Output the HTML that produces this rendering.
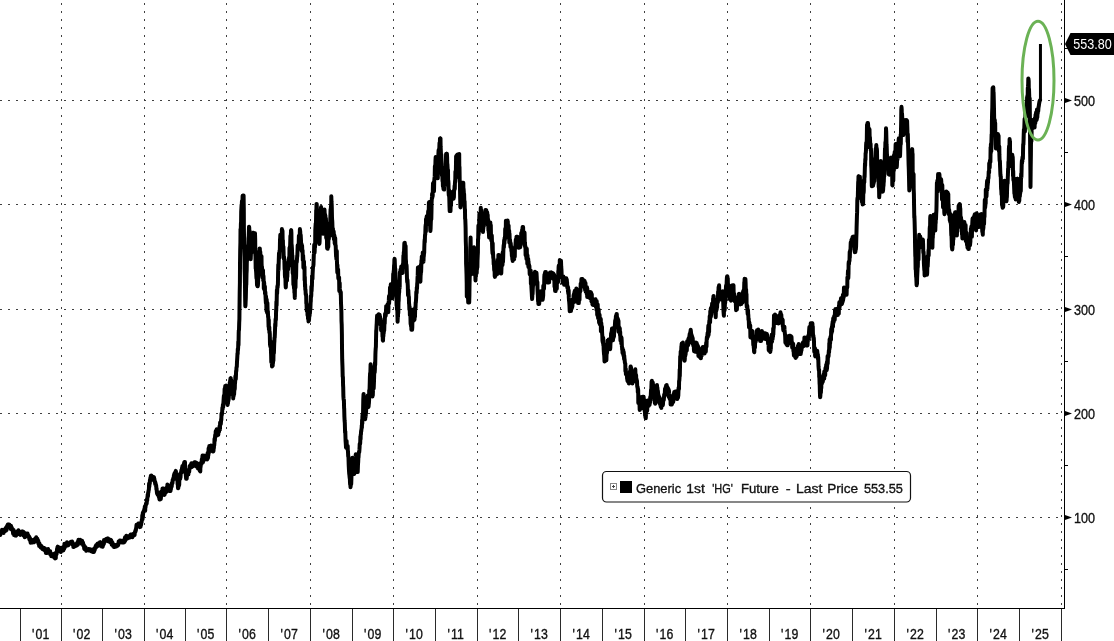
<!DOCTYPE html>
<html><head><meta charset="utf-8"><title>HG1 Copper Futures</title>
<style>
html,body{margin:0;padding:0;background:#fff;}
body{width:1114px;height:641px;overflow:hidden;}
svg{display:block;will-change:transform;}
text{font-family:"Liberation Sans",sans-serif;font-size:14px;fill:#111;stroke:#111;stroke-width:.35px;}
.g{stroke:#404040;stroke-width:1;shape-rendering:crispEdges;fill:none;}
.ax{stroke:#000;shape-rendering:crispEdges;fill:none;}
</style></head><body>
<svg width="1114" height="641" viewBox="0 0 1114 641">
<rect width="1114" height="641" fill="#fff"/>
<g class="g" stroke-dasharray="2 6">
<line x1="0" y1="100.5" x2="1064" y2="100.5"/>
<line x1="0" y1="204.5" x2="1064" y2="204.5"/>
<line x1="0" y1="309.5" x2="1064" y2="309.5"/>
<line x1="0" y1="413.5" x2="1064" y2="413.5"/>
<line x1="0" y1="517.5" x2="1064" y2="517.5"/>
</g>
<g class="g" stroke-dasharray="2 6" stroke-dashoffset="-3">
<line x1="61.5" y1="0" x2="61.5" y2="608"/>
<line x1="144.5" y1="0" x2="144.5" y2="608"/>
<line x1="226.5" y1="0" x2="226.5" y2="608"/>
<line x1="310.5" y1="0" x2="310.5" y2="608"/>
<line x1="393.5" y1="0" x2="393.5" y2="608"/>
<line x1="477.5" y1="0" x2="477.5" y2="608"/>
<line x1="560.5" y1="0" x2="560.5" y2="608"/>
<line x1="644.5" y1="0" x2="644.5" y2="608"/>
<line x1="727.5" y1="0" x2="727.5" y2="608"/>
<line x1="810.5" y1="0" x2="810.5" y2="608"/>
<line x1="894.5" y1="0" x2="894.5" y2="608"/>
<line x1="977.5" y1="0" x2="977.5" y2="608"/>
<line x1="1061.5" y1="0" x2="1061.5" y2="608"/>
</g>
<g class="ax">
<rect x="0" y="608" width="1065.2" height="1.25" fill="#000" stroke="none"/>
<rect x="1063.9" y="0" width="1.3" height="609.2" fill="#000" stroke="none"/>
</g>
<g stroke="#2a2a2a" stroke-width="1" shape-rendering="crispEdges">
<line x1="20.5" y1="609" x2="20.5" y2="641"/>
<line x1="61.5" y1="609" x2="61.5" y2="641"/>
<line x1="102.5" y1="609" x2="102.5" y2="641"/>
<line x1="144.5" y1="609" x2="144.5" y2="641"/>
<line x1="185.5" y1="609" x2="185.5" y2="641"/>
<line x1="226.5" y1="609" x2="226.5" y2="641"/>
<line x1="268.5" y1="609" x2="268.5" y2="641"/>
<line x1="310.5" y1="609" x2="310.5" y2="641"/>
<line x1="352.5" y1="609" x2="352.5" y2="641"/>
<line x1="393.5" y1="609" x2="393.5" y2="641"/>
<line x1="435.5" y1="609" x2="435.5" y2="641"/>
<line x1="477.5" y1="609" x2="477.5" y2="641"/>
<line x1="518.5" y1="609" x2="518.5" y2="641"/>
<line x1="560.5" y1="609" x2="560.5" y2="641"/>
<line x1="602.5" y1="609" x2="602.5" y2="641"/>
<line x1="644.5" y1="609" x2="644.5" y2="641"/>
<line x1="685.5" y1="609" x2="685.5" y2="641"/>
<line x1="727.5" y1="609" x2="727.5" y2="641"/>
<line x1="769.5" y1="609" x2="769.5" y2="641"/>
<line x1="810.5" y1="609" x2="810.5" y2="641"/>
<line x1="852.5" y1="609" x2="852.5" y2="641"/>
<line x1="894.5" y1="609" x2="894.5" y2="641"/>
<line x1="936.5" y1="609" x2="936.5" y2="641"/>
<line x1="977.5" y1="609" x2="977.5" y2="641"/>
<line x1="1019.5" y1="609" x2="1019.5" y2="641"/>
<line x1="1061.5" y1="609" x2="1061.5" y2="641"/>
</g>
<text transform="translate(31.9,639) scale(0.88,1)">&#39;<tspan dx="1.5">01</tspan></text>
<text transform="translate(72.9,639) scale(0.88,1)">&#39;<tspan dx="1.5">02</tspan></text>
<text transform="translate(114.4,639) scale(0.88,1)">&#39;<tspan dx="1.5">03</tspan></text>
<text transform="translate(155.9,639) scale(0.88,1)">&#39;<tspan dx="1.5">04</tspan></text>
<text transform="translate(196.9,639) scale(0.88,1)">&#39;<tspan dx="1.5">05</tspan></text>
<text transform="translate(238.4,639) scale(0.88,1)">&#39;<tspan dx="1.5">06</tspan></text>
<text transform="translate(280.4,639) scale(0.88,1)">&#39;<tspan dx="1.5">07</tspan></text>
<text transform="translate(322.4,639) scale(0.88,1)">&#39;<tspan dx="1.5">08</tspan></text>
<text transform="translate(363.9,639) scale(0.88,1)">&#39;<tspan dx="1.5">09</tspan></text>
<text transform="translate(405.4,639) scale(0.88,1)">&#39;<tspan dx="1.5">10</tspan></text>
<text transform="translate(447.4,639) scale(0.88,1)">&#39;<tspan dx="1.5">11</tspan></text>
<text transform="translate(488.9,639) scale(0.88,1)">&#39;<tspan dx="1.5">12</tspan></text>
<text transform="translate(530.4,639) scale(0.88,1)">&#39;<tspan dx="1.5">13</tspan></text>
<text transform="translate(572.4,639) scale(0.88,1)">&#39;<tspan dx="1.5">14</tspan></text>
<text transform="translate(614.4,639) scale(0.88,1)">&#39;<tspan dx="1.5">15</tspan></text>
<text transform="translate(655.9,639) scale(0.88,1)">&#39;<tspan dx="1.5">16</tspan></text>
<text transform="translate(697.4,639) scale(0.88,1)">&#39;<tspan dx="1.5">17</tspan></text>
<text transform="translate(739.4,639) scale(0.88,1)">&#39;<tspan dx="1.5">18</tspan></text>
<text transform="translate(780.9,639) scale(0.88,1)">&#39;<tspan dx="1.5">19</tspan></text>
<text transform="translate(822.4,639) scale(0.88,1)">&#39;<tspan dx="1.5">20</tspan></text>
<text transform="translate(864.4,639) scale(0.88,1)">&#39;<tspan dx="1.5">21</tspan></text>
<text transform="translate(906.4,639) scale(0.88,1)">&#39;<tspan dx="1.5">22</tspan></text>
<text transform="translate(947.9,639) scale(0.88,1)">&#39;<tspan dx="1.5">23</tspan></text>
<text transform="translate(989.4,639) scale(0.88,1)">&#39;<tspan dx="1.5">24</tspan></text>
<text transform="translate(1031.4,639) scale(0.88,1)">&#39;<tspan dx="1.5">25</tspan></text>
<path d="M1065 97.9 L1072 100.5 L1065 103.1 Z" fill="#000"/>
<text transform="translate(1074.1,106) scale(0.9,1)">500</text>
<path d="M1065 201.9 L1072 204.5 L1065 207.1 Z" fill="#000"/>
<text transform="translate(1074.1,210) scale(0.9,1)">400</text>
<path d="M1065 306.9 L1072 309.5 L1065 312.1 Z" fill="#000"/>
<text transform="translate(1074.1,315) scale(0.9,1)">300</text>
<path d="M1065 410.9 L1072 413.5 L1065 416.1 Z" fill="#000"/>
<text transform="translate(1074.1,419) scale(0.9,1)">200</text>
<path d="M1065 514.9 L1072 517.5 L1065 520.1 Z" fill="#000"/>
<text transform="translate(1074.1,523) scale(0.9,1)">100</text>
<g class="ax" stroke-width="1">
<line x1="1065" y1="48.5" x2="1068" y2="48.5"/>
<line x1="1065" y1="152.5" x2="1068" y2="152.5"/>
<line x1="1065" y1="256.5" x2="1068" y2="256.5"/>
<line x1="1065" y1="361.5" x2="1068" y2="361.5"/>
<line x1="1065" y1="465.5" x2="1068" y2="465.5"/>
<line x1="1065" y1="569.5" x2="1068" y2="569.5"/>
</g>
<path d="M1040.45 101 L1040.45 44" fill="none" stroke="#000" stroke-width="3"/>
<path d="M0.0 533.0 0.2 532.6 0.3 535.0 0.5 533.6 0.7 532.6 0.9 532.6 1.0 532.4 1.2 531.3 1.4 531.6 1.5 532.0 1.7 531.0 1.9 531.2 2.0 529.8 2.2 531.4 2.4 530.5 2.5 531.4 2.7 532.4 2.9 531.0 3.1 531.3 3.2 530.7 3.4 530.3 3.6 532.9 3.7 529.8 3.9 531.9 4.1 531.8 4.2 531.5 4.4 530.0 4.6 531.2 4.8 530.9 4.9 530.5 5.1 531.2 5.3 531.0 5.4 529.6 5.6 528.7 5.8 528.0 5.9 530.7 6.1 529.1 6.3 529.5 6.5 527.0 6.6 530.0 6.8 527.8 7.0 528.4 7.1 525.9 7.3 526.3 7.5 525.0 7.6 526.8 7.8 524.6 8.0 526.9 8.2 524.6 8.3 524.6 8.5 526.8 8.7 525.1 8.8 526.7 9.0 524.6 9.2 524.6 9.3 526.3 9.5 527.1 9.7 527.2 9.9 526.2 10.0 525.9 10.2 526.1 10.4 526.1 10.5 526.5 10.7 527.7 10.9 529.1 11.0 525.7 11.2 527.0 11.4 527.5 11.6 529.0 11.7 527.5 11.9 529.8 12.1 529.4 12.2 529.1 12.4 528.9 12.6 530.3 12.7 529.3 12.9 531.2 13.1 533.6 13.3 533.0 13.4 530.5 13.6 529.9 13.8 532.9 13.9 533.9 14.1 535.1 14.3 533.8 14.4 531.9 14.6 534.2 14.8 535.0 15.0 535.3 15.1 533.7 15.3 535.6 15.5 535.6 15.6 535.3 15.8 533.7 16.0 533.5 16.1 535.7 16.3 532.1 16.5 535.0 16.7 534.0 16.8 533.6 17.0 534.1 17.2 534.3 17.3 531.6 17.5 531.6 17.7 532.8 17.9 530.9 18.0 531.0 18.2 531.4 18.4 530.2 18.5 530.7 18.7 532.4 18.9 531.5 19.0 533.2 19.2 532.1 19.4 533.2 19.6 532.9 19.7 533.8 19.9 533.5 20.1 534.7 20.2 534.8 20.4 532.5 20.6 533.0 20.7 534.1 20.9 532.5 21.1 534.4 21.3 532.9 21.4 531.7 21.6 532.6 21.8 531.5 21.9 532.7 22.1 533.3 22.3 532.2 22.4 532.5 22.6 531.5 22.8 534.5 23.0 533.0 23.1 533.9 23.3 534.7 23.5 535.4 23.6 531.9 23.8 532.5 24.0 534.7 24.1 535.1 24.3 535.7 24.5 535.4 24.7 537.3 24.8 536.2 25.0 535.9 25.2 536.2 25.3 536.2 25.5 535.2 25.7 535.9 25.8 533.5 26.0 535.7 26.2 536.2 26.4 536.1 26.5 535.0 26.7 534.5 26.9 536.0 27.0 535.5 27.2 535.2 27.4 536.0 27.5 533.4 27.7 534.0 27.9 534.5 28.1 535.5 28.2 536.7 28.4 536.7 28.6 536.8 28.7 536.1 28.9 537.0 29.1 536.4 29.2 537.9 29.4 539.4 29.6 537.9 29.8 537.6 29.9 538.7 30.1 540.0 30.3 541.0 30.4 538.9 30.6 542.7 30.8 541.8 30.9 539.9 31.1 539.7 31.3 540.0 31.5 540.9 31.6 542.5 31.8 540.9 32.0 542.2 32.1 542.3 32.3 541.4 32.5 542.5 32.6 542.5 32.8 542.5 33.0 541.4 33.2 540.8 33.3 541.2 33.5 540.1 33.7 541.6 33.8 541.1 34.0 542.3 34.2 541.7 34.3 540.7 34.5 539.2 34.7 539.1 34.9 539.9 35.0 538.8 35.2 538.7 35.4 539.7 35.5 540.0 35.7 540.9 35.9 540.8 36.0 538.5 36.2 537.2 36.4 538.5 36.6 540.1 36.7 540.4 36.9 540.5 37.1 540.3 37.2 538.5 37.4 539.1 37.6 541.4 37.7 541.6 37.9 541.9 38.1 542.5 38.3 540.8 38.4 543.7 38.6 543.7 38.8 543.9 38.9 543.6 39.1 545.9 39.3 545.8 39.4 543.2 39.6 545.3 39.8 545.2 40.0 546.1 40.1 545.2 40.3 545.4 40.5 547.1 40.6 547.4 40.8 546.2 41.0 545.6 41.1 546.4 41.3 546.6 41.5 546.6 41.7 547.4 41.8 547.1 42.0 547.2 42.2 548.7 42.3 548.9 42.5 547.7 42.7 548.7 42.8 547.3 43.0 547.5 43.2 548.6 43.4 548.6 43.5 549.3 43.7 548.6 43.9 549.3 44.0 550.0 44.2 549.9 44.4 548.2 44.5 549.3 44.7 549.0 44.9 548.4 45.1 549.4 45.2 550.0 45.4 551.1 45.6 550.1 45.7 551.1 45.9 553.1 46.1 551.9 46.2 550.6 46.4 551.9 46.6 551.6 46.8 551.9 46.9 550.0 47.1 553.0 47.3 551.0 47.4 550.0 47.6 549.9 47.8 550.1 47.9 549.9 48.1 549.0 48.3 550.2 48.5 550.2 48.6 551.7 48.8 551.5 49.0 552.6 49.1 551.9 49.3 551.8 49.5 552.8 49.6 551.7 49.8 551.1 50.0 552.8 50.2 551.2 50.3 554.5 50.5 553.0 50.7 553.6 50.8 555.0 51.0 555.1 51.2 554.7 51.3 556.2 51.5 555.5 51.7 553.9 51.9 555.8 52.0 554.7 52.2 554.8 52.4 555.5 52.5 555.4 52.7 555.9 52.9 555.8 53.0 554.3 53.2 555.5 53.4 555.6 53.6 555.9 53.7 557.0 53.9 556.7 54.1 556.7 54.2 557.4 54.4 557.6 54.6 557.6 54.7 553.5 54.9 555.2 55.1 558.4 55.3 557.4 55.4 555.5 55.6 556.4 55.8 558.3 55.9 554.3 56.1 552.4 56.3 553.4 56.4 554.4 56.6 553.9 56.8 552.3 57.0 550.0 57.1 548.6 57.3 548.7 57.5 547.0 57.6 547.8 57.8 546.6 58.0 547.8 58.1 549.3 58.3 548.2 58.5 548.4 58.7 548.2 58.8 549.2 59.0 548.5 59.2 548.9 59.3 547.4 59.5 547.6 59.7 549.7 59.8 550.1 60.0 551.2 60.2 550.5 60.4 549.3 60.5 548.4 60.7 551.9 60.9 550.3 61.0 551.9 61.2 551.7 61.4 550.7 61.5 548.0 61.7 551.1 61.9 550.6 62.1 550.3 62.2 547.5 62.4 548.0 62.6 548.0 62.7 548.7 62.9 547.8 63.1 548.7 63.2 547.2 63.4 550.4 63.6 546.7 63.8 546.9 63.9 547.3 64.1 546.8 64.3 548.8 64.4 543.8 64.6 545.0 64.8 547.4 64.9 546.6 65.1 544.5 65.3 544.8 65.5 544.9 65.6 545.6 65.8 546.1 66.0 545.3 66.1 545.2 66.3 545.2 66.5 545.6 66.6 544.4 66.8 544.3 67.0 542.2 67.2 543.6 67.3 545.3 67.5 545.4 67.7 545.0 67.8 544.4 68.0 543.1 68.2 544.3 68.3 545.2 68.5 544.0 68.7 544.5 68.9 543.7 69.0 544.3 69.2 544.1 69.4 543.7 69.5 543.7 69.7 543.9 69.9 543.7 70.0 543.0 70.2 543.1 70.4 542.2 70.6 542.4 70.7 543.5 70.9 541.7 71.1 542.2 71.2 541.7 71.4 542.8 71.6 542.2 71.7 541.9 71.9 542.9 72.1 541.6 72.3 541.9 72.4 542.6 72.6 544.6 72.8 543.8 72.9 543.7 73.1 543.7 73.3 546.9 73.4 543.9 73.6 545.6 73.8 547.1 74.0 546.1 74.1 545.6 74.3 545.5 74.5 546.4 74.6 546.4 74.8 546.1 75.0 545.5 75.1 545.7 75.3 545.6 75.5 545.8 75.7 543.9 75.8 545.0 76.0 545.9 76.2 544.3 76.3 545.7 76.5 544.6 76.7 545.4 76.8 544.1 77.0 543.6 77.2 542.8 77.4 544.5 77.5 542.3 77.7 544.3 77.9 544.7 78.0 543.5 78.2 540.7 78.4 541.4 78.5 539.7 78.7 540.4 78.9 540.0 79.1 541.1 79.2 541.0 79.4 540.8 79.6 540.2 79.7 541.8 79.9 542.1 80.1 539.7 80.2 540.8 80.4 540.4 80.6 541.3 80.8 541.8 80.9 541.7 81.1 541.8 81.3 541.4 81.4 542.5 81.6 542.6 81.8 543.8 81.9 543.4 82.1 540.8 82.3 542.9 82.5 543.3 82.6 541.9 82.8 542.8 83.0 542.7 83.1 544.4 83.3 545.5 83.5 545.9 83.6 544.6 83.8 544.8 84.0 546.3 84.2 548.6 84.3 548.8 84.5 547.5 84.7 547.4 84.8 546.7 85.0 548.0 85.2 548.7 85.3 548.2 85.5 547.2 85.7 548.2 85.9 549.3 86.0 549.9 86.2 550.7 86.4 550.6 86.5 550.2 86.7 550.1 86.9 549.4 87.0 550.4 87.2 549.5 87.4 549.4 87.6 549.4 87.7 549.4 87.9 550.0 88.1 549.3 88.2 550.3 88.4 549.4 88.6 549.1 88.7 550.4 88.9 549.0 89.1 549.2 89.3 550.1 89.4 550.4 89.6 549.5 89.8 549.7 89.9 549.2 90.1 549.6 90.3 550.1 90.4 550.0 90.6 549.6 90.8 549.6 91.0 550.2 91.1 550.1 91.3 551.3 91.5 551.0 91.6 550.6 91.8 550.9 92.0 549.8 92.1 549.7 92.3 550.0 92.5 550.3 92.7 551.9 92.8 551.9 93.0 551.6 93.2 551.9 93.3 551.2 93.5 551.2 93.7 551.6 93.8 550.3 94.0 551.9 94.2 549.8 94.4 548.4 94.5 550.6 94.7 550.1 94.9 548.3 95.0 547.8 95.2 548.5 95.4 546.7 95.5 546.6 95.7 547.9 95.9 545.7 96.1 545.2 96.2 547.2 96.4 545.1 96.6 544.8 96.7 546.2 96.9 545.5 97.1 544.9 97.2 544.3 97.4 543.9 97.6 544.9 97.8 543.4 97.9 546.1 98.1 544.5 98.3 544.6 98.4 545.7 98.6 545.1 98.8 544.0 98.9 544.1 99.1 544.0 99.3 543.3 99.5 543.7 99.6 545.4 99.8 542.3 100.0 542.3 100.1 542.3 100.3 542.3 100.5 544.2 100.6 542.3 100.8 543.0 101.0 543.7 101.2 542.6 101.3 545.3 101.5 543.8 101.7 545.4 101.8 546.6 102.0 545.7 102.2 545.3 102.3 546.6 102.5 546.5 102.7 546.6 102.9 545.4 103.0 545.1 103.2 544.9 103.4 544.6 103.5 543.4 103.7 542.4 103.9 544.0 104.0 540.1 104.2 542.9 104.4 540.2 104.6 542.0 104.7 540.5 104.9 540.5 105.1 541.3 105.2 540.3 105.4 539.5 105.6 540.6 105.7 541.1 105.9 539.5 106.1 539.1 106.3 540.1 106.4 540.2 106.6 538.7 106.8 539.7 106.9 540.3 107.1 540.2 107.3 538.5 107.4 538.5 107.6 538.9 107.8 539.6 108.0 538.5 108.1 539.7 108.3 539.4 108.5 538.8 108.6 541.4 108.8 540.9 109.0 540.7 109.1 539.7 109.3 539.8 109.5 540.4 109.7 540.6 109.8 540.1 110.0 541.0 110.2 541.8 110.3 542.2 110.5 540.2 110.7 539.8 110.8 541.4 111.0 542.9 111.2 540.2 111.4 542.3 111.5 542.1 111.7 544.5 111.9 542.4 112.0 542.0 112.2 542.9 112.4 542.7 112.5 542.6 112.7 543.7 112.9 545.7 113.1 544.6 113.2 546.1 113.4 546.0 113.6 545.4 113.7 545.3 113.9 544.6 114.1 547.0 114.2 544.8 114.4 546.0 114.6 545.2 114.8 546.7 114.9 546.8 115.1 545.3 115.3 545.1 115.4 545.4 115.6 545.4 115.8 546.5 115.9 545.9 116.1 545.3 116.3 546.5 116.5 546.2 116.6 546.3 116.8 545.9 117.0 546.1 117.1 546.1 117.3 545.1 117.5 544.6 117.6 544.9 117.8 545.4 118.0 544.1 118.2 545.2 118.3 543.4 118.5 543.9 118.7 541.5 118.8 541.4 119.0 542.5 119.2 540.9 119.3 543.0 119.5 542.3 119.7 541.0 119.9 540.5 120.0 541.8 120.2 541.6 120.4 540.9 120.5 541.1 120.7 541.6 120.9 540.6 121.0 540.9 121.2 542.2 121.4 542.3 121.6 541.1 121.7 542.4 121.9 542.5 122.1 540.7 122.2 541.5 122.4 540.9 122.6 542.0 122.7 541.0 122.9 540.8 123.1 540.7 123.3 542.5 123.4 542.5 123.6 542.5 123.8 542.5 123.9 542.5 124.1 540.5 124.3 541.0 124.4 540.4 124.6 541.8 124.8 538.7 125.0 537.2 125.1 539.2 125.3 540.6 125.5 539.0 125.6 537.8 125.8 538.8 126.0 538.8 126.1 537.1 126.3 535.8 126.5 539.0 126.7 537.1 126.8 538.2 127.0 536.8 127.2 538.6 127.3 538.4 127.5 537.6 127.7 536.6 127.8 536.5 128.0 536.5 128.2 537.1 128.4 537.9 128.5 537.0 128.7 537.9 128.9 536.2 129.0 536.6 129.2 537.1 129.4 537.5 129.5 535.9 129.7 536.2 129.9 537.5 130.1 537.5 130.2 535.5 130.4 535.4 130.6 534.5 130.7 537.2 130.9 535.1 131.1 535.4 131.2 535.8 131.4 536.4 131.6 535.4 131.8 535.3 131.9 535.3 132.1 535.6 132.3 534.2 132.4 537.2 132.6 535.1 132.8 534.6 132.9 536.1 133.1 536.0 133.3 535.6 133.5 533.8 133.6 535.6 133.8 533.9 134.0 535.4 134.1 535.1 134.3 534.5 134.5 534.0 134.6 535.0 134.8 532.4 135.0 532.2 135.2 531.1 135.3 531.9 135.5 531.5 135.7 529.5 135.8 530.8 136.0 529.1 136.2 527.7 136.3 527.4 136.5 524.8 136.7 526.9 136.9 525.7 137.0 525.9 137.2 525.6 137.4 525.1 137.5 525.4 137.7 524.7 137.9 525.7 138.0 524.0 138.2 524.1 138.4 523.6 138.6 524.8 138.7 524.2 138.9 524.5 139.1 523.5 139.2 524.7 139.4 523.7 139.6 525.0 139.7 526.3 139.9 527.1 140.1 525.0 140.3 526.3 140.4 526.9 140.6 526.4 140.8 525.2 140.9 524.4 141.1 524.8 141.3 522.7 141.4 522.6 141.6 522.2 141.8 520.0 142.0 519.2 142.1 519.7 142.3 515.2 142.5 515.9 142.6 519.3 142.8 512.7 143.0 514.2 143.1 514.1 143.3 512.0 143.5 512.2 143.6 511.8 143.8 510.7 144.0 510.7 144.2 511.1 144.3 509.1 144.5 509.3 144.7 508.4 144.8 506.6 145.0 507.6 145.2 510.8 145.3 507.8 145.5 507.3 145.7 504.7 145.9 505.3 146.0 503.7 146.2 503.1 146.4 503.8 146.5 503.9 146.7 503.3 146.9 499.9 147.0 499.1 147.2 500.6 147.4 497.3 147.6 496.2 147.7 494.4 147.9 496.7 148.1 494.2 148.2 492.2 148.4 492.3 148.6 490.2 148.7 490.3 148.9 489.1 149.1 483.6 149.3 486.8 149.4 485.1 149.6 483.2 149.8 483.6 149.9 480.4 150.1 479.4 150.3 479.3 150.4 477.5 150.6 478.4 150.8 475.8 151.0 476.7 151.1 476.4 151.3 476.1 151.5 475.6 151.6 475.9 151.8 476.1 152.0 478.4 152.1 477.1 152.3 479.0 152.5 479.1 152.7 477.8 152.8 479.4 153.0 478.9 153.2 478.9 153.3 480.0 153.5 479.6 153.7 477.0 153.8 477.4 154.0 477.3 154.2 479.1 154.4 478.8 154.5 481.0 154.7 480.4 154.9 482.7 155.0 481.7 155.2 484.1 155.4 482.4 155.5 485.0 155.7 484.2 155.9 484.2 156.1 486.5 156.2 485.5 156.4 489.3 156.6 488.3 156.7 490.1 156.9 492.3 157.1 493.8 157.2 493.6 157.4 492.0 157.6 494.5 157.8 492.6 157.9 493.7 158.1 494.9 158.3 495.4 158.4 495.6 158.6 494.3 158.8 496.8 158.9 494.5 159.1 495.2 159.3 498.2 159.5 499.5 159.6 498.4 159.8 497.9 160.0 499.5 160.1 497.9 160.3 498.5 160.5 499.3 160.6 496.5 160.8 499.0 161.0 496.8 161.2 491.5 161.3 493.8 161.5 495.3 161.7 493.2 161.8 491.3 162.0 492.5 162.2 493.4 162.3 491.6 162.5 488.5 162.7 488.5 162.9 488.5 163.0 490.2 163.2 488.5 163.4 490.7 163.5 494.1 163.7 492.1 163.9 494.5 164.0 492.2 164.2 494.9 164.4 493.6 164.6 493.2 164.7 494.4 164.9 492.8 165.1 492.0 165.2 492.6 165.4 492.2 165.6 492.5 165.7 491.9 165.9 491.8 166.1 492.2 166.3 489.0 166.4 487.7 166.6 487.9 166.8 488.5 166.9 488.3 167.1 487.7 167.3 487.6 167.4 484.5 167.6 485.6 167.8 486.2 168.0 489.1 168.1 488.1 168.3 488.6 168.5 486.5 168.6 485.8 168.8 486.1 169.0 488.3 169.1 489.3 169.3 487.9 169.5 491.1 169.7 487.4 169.8 487.4 170.0 489.9 170.2 491.1 170.3 489.1 170.5 491.1 170.7 489.2 170.8 489.1 171.0 488.9 171.2 486.9 171.4 484.8 171.5 483.7 171.7 486.6 171.9 483.6 172.0 482.7 172.2 483.2 172.4 483.4 172.5 482.8 172.7 479.7 172.9 479.8 173.1 479.2 173.2 480.2 173.4 477.8 173.6 477.5 173.7 479.1 173.9 475.4 174.1 474.8 174.2 474.7 174.4 473.6 174.6 475.6 174.8 474.0 174.9 472.9 175.1 473.0 175.3 472.0 175.4 474.4 175.6 471.9 175.8 470.9 175.9 473.6 176.1 472.1 176.3 473.2 176.5 473.9 176.6 474.2 176.8 477.1 177.0 474.8 177.1 478.7 177.3 480.8 177.5 480.8 177.6 484.2 177.8 484.4 178.0 488.2 178.2 487.5 178.3 488.2 178.5 485.1 178.7 485.0 178.8 485.8 179.0 485.7 179.2 484.6 179.3 480.9 179.5 476.6 179.7 478.2 179.9 478.8 180.0 476.9 180.2 478.8 180.4 473.5 180.5 477.6 180.7 473.7 180.9 473.3 181.0 472.1 181.2 472.2 181.4 470.2 181.6 469.9 181.7 472.5 181.9 469.4 182.1 468.5 182.2 467.9 182.4 466.0 182.6 469.8 182.7 471.8 182.9 468.9 183.1 468.4 183.3 466.8 183.4 470.0 183.6 468.7 183.8 467.3 183.9 463.4 184.1 465.7 184.3 462.5 184.4 462.0 184.6 462.0 184.8 462.0 185.0 462.0 185.1 467.8 185.3 471.8 185.5 470.3 185.6 472.0 185.8 475.0 186.0 476.9 186.1 478.7 186.3 476.1 186.5 477.8 186.7 478.7 186.8 477.1 187.0 475.9 187.2 473.8 187.3 472.0 187.5 470.5 187.7 474.1 187.8 474.4 188.0 472.1 188.2 471.0 188.4 474.3 188.5 472.0 188.7 471.6 188.9 472.4 189.0 471.3 189.2 471.8 189.4 468.3 189.5 468.8 189.7 466.0 189.9 468.2 190.1 466.9 190.2 467.1 190.4 467.7 190.6 464.9 190.7 464.8 190.9 465.8 191.1 465.4 191.2 465.5 191.4 463.3 191.6 466.6 191.8 467.2 191.9 465.4 192.1 464.2 192.3 465.8 192.4 466.6 192.6 463.5 192.8 463.4 192.9 465.2 193.1 466.1 193.3 465.6 193.5 465.9 193.6 462.9 193.8 464.4 194.0 462.6 194.1 462.5 194.3 462.4 194.5 462.9 194.6 463.8 194.8 463.6 195.0 462.3 195.2 462.3 195.3 462.3 195.5 462.3 195.7 463.6 195.8 464.5 196.0 466.1 196.2 463.9 196.3 463.4 196.5 464.7 196.7 466.7 196.9 465.0 197.0 463.0 197.2 463.7 197.4 463.5 197.5 463.8 197.7 465.6 197.9 468.4 198.0 466.6 198.2 464.8 198.4 465.4 198.6 468.6 198.7 468.9 198.9 468.7 199.1 468.5 199.2 467.7 199.4 468.9 199.6 470.5 199.7 470.5 199.9 469.8 200.1 468.2 200.3 471.4 200.4 466.3 200.6 467.2 200.8 463.9 200.9 462.7 201.1 464.0 201.3 463.8 201.4 462.5 201.6 464.0 201.8 459.2 202.0 461.0 202.1 461.4 202.3 458.1 202.5 455.6 202.6 460.5 202.8 457.5 203.0 462.1 203.1 458.1 203.3 461.4 203.5 457.7 203.7 456.1 203.8 455.5 204.0 455.5 204.2 456.5 204.3 458.5 204.5 458.6 204.7 457.3 204.8 455.9 205.0 456.6 205.2 459.0 205.4 457.9 205.5 459.3 205.7 458.3 205.9 458.5 206.0 456.7 206.2 456.8 206.4 457.5 206.5 456.9 206.7 457.2 206.9 456.8 207.1 459.4 207.2 454.5 207.4 456.4 207.6 453.0 207.7 453.6 207.9 458.3 208.1 456.9 208.2 452.0 208.4 455.2 208.6 448.3 208.8 453.3 208.9 449.9 209.1 451.3 209.3 446.1 209.4 448.9 209.6 447.6 209.8 449.1 209.9 448.0 210.1 446.1 210.3 445.9 210.5 449.0 210.6 446.3 210.8 447.6 211.0 445.7 211.1 445.5 211.3 446.2 211.5 448.2 211.6 448.3 211.8 446.1 212.0 450.8 212.2 448.7 212.3 448.8 212.5 448.9 212.7 450.6 212.8 451.6 213.0 448.8 213.2 449.0 213.3 451.5 213.5 450.8 213.7 448.2 213.9 448.2 214.0 445.3 214.2 445.6 214.4 443.1 214.5 438.7 214.7 441.1 214.9 440.1 215.0 437.7 215.2 434.8 215.4 435.9 215.6 434.3 215.7 431.3 215.9 430.9 216.1 432.2 216.2 433.0 216.4 431.4 216.6 430.5 216.7 429.2 216.9 431.8 217.1 435.6 217.3 432.6 217.4 432.1 217.6 432.5 217.8 432.3 217.9 433.0 218.1 431.0 218.3 434.8 218.4 430.1 218.6 429.5 218.8 430.7 219.0 431.9 219.1 429.3 219.3 428.0 219.5 427.9 219.6 426.1 219.8 426.0 220.0 429.4 220.1 422.5 220.3 423.0 220.5 424.0 220.7 422.7 220.8 424.0 221.0 421.4 221.2 418.7 221.3 420.3 221.5 413.6 221.7 415.8 221.8 412.9 222.0 414.2 222.2 411.2 222.4 407.5 222.5 409.3 222.7 409.0 222.9 404.6 223.0 406.0 223.2 407.2 223.4 403.0 223.5 401.5 223.7 398.2 223.9 395.6 224.1 396.8 224.2 395.2 224.4 396.8 224.6 388.8 224.7 392.6 224.9 391.5 225.1 390.7 225.2 386.1 225.4 394.3 225.6 385.8 225.8 390.3 225.9 391.0 226.1 385.6 226.3 388.3 226.4 388.1 226.6 395.9 226.8 393.2 226.9 395.7 227.1 402.8 227.3 403.5 227.5 404.7 227.6 404.9 227.8 401.9 228.0 403.4 228.1 400.1 228.3 401.2 228.5 400.0 228.6 399.6 228.8 397.8 229.0 391.6 229.2 395.2 229.3 390.6 229.5 388.2 229.7 386.7 229.8 382.3 230.0 385.5 230.2 380.0 230.3 382.1 230.5 378.3 230.7 378.1 230.9 383.5 231.0 379.6 231.2 380.4 231.4 386.0 231.5 383.2 231.7 383.8 231.9 385.5 232.0 384.3 232.2 391.4 232.4 394.1 232.6 386.8 232.7 390.1 232.9 393.4 233.1 391.3 233.2 398.4 233.4 393.1 233.6 394.0 233.7 396.0 233.9 391.5 234.1 394.4 234.3 389.8 234.4 387.1 234.6 389.6 234.8 388.2 234.9 384.1 235.1 382.4 235.3 378.9 235.4 376.0 235.6 378.3 235.8 379.1 236.0 374.4 236.1 370.8 236.3 371.1 236.5 367.7 236.6 367.1 236.8 367.0 237.0 361.9 237.1 360.4 237.3 357.2 237.5 353.2 237.7 353.9 237.8 348.8 238.0 350.1 238.2 346.0 238.3 341.5 238.5 345.1 238.7 333.0 238.8 330.2 239.0 330.2 239.2 322.9 239.4 318.9 239.5 308.1 239.7 292.3 239.9 282.7 240.0 264.8 240.2 249.9 240.4 242.2 240.5 229.1 240.7 234.1 240.9 223.6 241.1 221.6 241.2 211.6 241.4 208.1 241.6 204.5 241.7 209.0 241.9 201.8 242.1 200.5 242.2 205.9 242.4 203.4 242.6 195.7 242.8 201.6 242.9 199.9 243.1 200.2 243.3 198.9 243.4 195.5 243.6 195.5 243.8 208.2 243.9 228.4 244.1 241.0 244.3 250.0 244.5 257.3 244.6 269.3 244.8 275.4 245.0 284.7 245.1 296.6 245.3 306.3 245.5 305.2 245.6 302.1 245.8 298.1 246.0 289.2 246.2 284.7 246.3 284.7 246.5 273.8 246.7 270.1 246.8 262.6 247.0 260.1 247.2 258.3 247.3 254.0 247.5 253.6 247.7 253.0 247.9 247.3 248.0 248.2 248.2 245.3 248.4 244.2 248.5 238.3 248.7 236.3 248.9 231.2 249.0 226.7 249.2 227.3 249.4 231.6 249.6 230.5 249.7 240.9 249.9 249.1 250.1 253.0 250.2 247.8 250.4 252.6 250.6 250.4 250.7 259.3 250.9 253.9 251.1 252.4 251.3 253.3 251.4 244.0 251.6 244.7 251.8 245.2 251.9 241.0 252.1 237.0 252.3 234.9 252.4 240.8 252.6 235.1 252.8 233.1 253.0 232.8 253.1 232.9 253.3 232.8 253.5 236.3 253.6 235.3 253.8 234.9 254.0 233.7 254.1 237.2 254.3 236.7 254.5 237.4 254.7 237.3 254.8 239.6 255.0 233.2 255.2 240.4 255.3 253.5 255.5 256.6 255.7 268.8 255.8 265.2 256.0 270.2 256.2 272.6 256.4 276.8 256.5 278.3 256.7 277.4 256.9 280.4 257.0 285.3 257.2 272.6 257.4 277.8 257.5 286.3 257.7 286.3 257.9 285.3 258.1 282.3 258.2 278.0 258.4 274.8 258.6 272.0 258.7 266.5 258.9 265.1 259.1 259.8 259.2 250.9 259.4 255.5 259.6 248.4 259.8 248.4 259.9 250.9 260.1 254.8 260.3 251.8 260.4 256.1 260.6 266.7 260.8 262.2 260.9 257.1 261.1 263.5 261.3 257.2 261.5 256.1 261.6 263.8 261.8 268.2 262.0 266.7 262.1 271.2 262.3 275.2 262.5 277.6 262.6 271.6 262.8 275.9 263.0 270.2 263.2 280.4 263.3 275.3 263.5 276.4 263.7 281.4 263.8 288.4 264.0 281.8 264.2 283.3 264.3 289.8 264.5 286.9 264.7 286.5 264.9 286.5 265.0 293.6 265.2 291.6 265.4 292.7 265.5 295.6 265.7 299.9 265.9 303.0 266.0 296.2 266.2 299.6 266.4 309.6 266.6 311.4 266.7 299.5 266.9 307.0 267.1 312.8 267.2 306.6 267.4 302.9 267.6 310.3 267.7 311.8 267.9 311.2 268.1 317.2 268.3 316.5 268.4 320.6 268.6 326.9 268.8 319.8 268.9 329.5 269.1 327.7 269.3 327.1 269.4 332.8 269.6 331.4 269.8 333.8 270.0 344.9 270.1 342.1 270.3 346.4 270.5 344.5 270.6 341.3 270.8 345.3 271.0 352.2 271.1 354.3 271.3 362.1 271.5 362.1 271.7 362.5 271.8 360.9 272.0 366.4 272.2 361.3 272.3 365.2 272.5 365.8 272.7 365.6 272.8 360.6 273.0 363.2 273.2 358.7 273.4 360.7 273.5 354.6 273.7 350.2 273.9 353.2 274.0 350.0 274.2 343.6 274.4 341.2 274.5 337.9 274.7 337.6 274.9 333.4 275.1 327.5 275.2 323.7 275.4 326.2 275.6 319.1 275.7 319.0 275.9 320.0 276.1 309.9 276.2 311.3 276.4 301.5 276.6 305.4 276.8 295.4 276.9 289.9 277.1 293.7 277.3 288.1 277.4 286.1 277.6 287.5 277.8 284.7 277.9 285.1 278.1 272.3 278.3 264.6 278.5 270.4 278.6 266.6 278.8 259.4 279.0 253.6 279.1 252.9 279.3 258.0 279.5 252.1 279.6 250.4 279.8 251.5 280.0 239.8 280.2 237.5 280.3 234.7 280.5 238.2 280.7 237.1 280.8 240.8 281.0 236.5 281.2 236.3 281.3 235.4 281.5 236.0 281.7 238.7 281.9 229.1 282.0 231.0 282.2 236.1 282.4 232.5 282.5 230.7 282.7 243.9 282.9 240.2 283.0 246.1 283.2 249.4 283.4 246.6 283.6 252.4 283.7 258.4 283.9 256.3 284.1 257.4 284.2 258.4 284.4 262.0 284.6 269.4 284.7 261.7 284.9 275.0 285.1 277.7 285.3 276.8 285.4 276.6 285.6 285.2 285.8 287.5 285.9 284.9 286.1 279.5 286.3 281.0 286.4 278.7 286.6 276.6 286.8 269.5 287.0 280.6 287.1 271.7 287.3 276.9 287.5 269.6 287.6 267.1 287.8 268.5 288.0 268.4 288.1 269.6 288.3 266.6 288.5 265.4 288.7 259.2 288.8 266.2 289.0 258.1 289.2 256.7 289.3 262.5 289.5 247.8 289.7 249.7 289.8 251.9 290.0 249.0 290.2 243.7 290.4 235.7 290.5 238.3 290.7 240.9 290.9 233.8 291.0 230.5 291.2 230.2 291.4 232.8 291.5 243.7 291.7 245.0 291.9 248.1 292.1 253.4 292.2 255.3 292.4 255.8 292.6 265.3 292.7 273.3 292.9 268.7 293.1 274.8 293.2 275.1 293.4 284.6 293.6 282.7 293.8 283.8 293.9 286.7 294.1 288.7 294.3 285.3 294.4 292.8 294.6 292.6 294.8 297.9 294.9 290.3 295.1 287.7 295.3 285.5 295.5 287.6 295.6 279.5 295.8 279.0 296.0 278.1 296.1 275.7 296.3 264.9 296.5 260.7 296.6 262.6 296.8 261.7 297.0 258.8 297.2 255.6 297.3 256.4 297.5 251.2 297.7 245.2 297.8 247.5 298.0 246.7 298.2 248.6 298.3 246.7 298.5 246.1 298.7 243.8 298.9 235.7 299.0 238.2 299.2 238.0 299.4 236.2 299.5 234.9 299.7 236.2 299.9 229.1 300.0 230.5 300.2 231.1 300.4 235.2 300.6 244.3 300.7 234.8 300.9 238.5 301.1 243.4 301.2 245.5 301.4 245.9 301.6 250.7 301.7 244.3 301.9 247.1 302.1 245.8 302.3 252.3 302.4 252.2 302.6 250.4 302.8 260.3 302.9 259.3 303.1 255.4 303.3 258.9 303.4 267.6 303.6 268.1 303.8 267.4 304.0 261.5 304.1 268.4 304.3 267.9 304.5 266.7 304.6 280.3 304.8 276.8 305.0 286.4 305.1 284.1 305.3 290.0 305.5 289.5 305.7 293.9 305.8 294.9 306.0 294.1 306.2 296.5 306.3 303.2 306.5 303.6 306.7 308.9 306.8 311.0 307.0 309.5 307.2 309.2 307.4 306.6 307.5 315.2 307.7 314.6 307.9 314.1 308.0 318.7 308.2 315.4 308.4 314.2 308.5 321.4 308.7 318.8 308.9 320.8 309.1 319.0 309.2 317.0 309.4 315.6 309.6 315.8 309.7 309.3 309.9 313.7 310.1 310.7 310.2 308.5 310.4 308.6 310.6 302.8 310.8 301.1 310.9 295.7 311.1 297.0 311.3 294.8 311.4 286.6 311.6 291.1 311.8 286.5 311.9 286.2 312.1 276.9 312.3 278.0 312.5 278.9 312.6 274.1 312.8 270.4 313.0 266.6 313.1 266.7 313.3 265.9 313.5 264.5 313.6 260.6 313.8 255.3 314.0 253.4 314.2 244.7 314.3 245.4 314.5 253.1 314.7 250.8 314.8 245.5 315.0 247.4 315.2 241.9 315.3 230.1 315.5 226.7 315.7 223.3 315.9 226.9 316.0 221.7 316.2 210.0 316.4 210.8 316.5 203.9 316.7 203.9 316.9 209.8 317.0 213.8 317.2 213.0 317.4 216.5 317.6 217.7 317.7 211.8 317.9 219.6 318.1 235.0 318.2 225.3 318.4 234.4 318.6 228.3 318.7 235.0 318.9 242.6 319.1 240.3 319.3 243.9 319.4 243.9 319.6 241.9 319.8 232.8 319.9 228.8 320.1 224.8 320.3 221.9 320.4 218.3 320.6 209.8 320.8 211.8 321.0 207.7 321.1 207.0 321.3 210.6 321.5 213.5 321.6 214.9 321.8 215.2 322.0 212.3 322.1 218.7 322.3 226.7 322.5 215.9 322.7 222.7 322.8 227.3 323.0 232.3 323.2 232.1 323.3 233.8 323.5 225.7 323.7 225.9 323.8 215.3 324.0 216.0 324.2 218.4 324.4 217.9 324.5 209.5 324.7 213.7 324.9 219.9 325.0 214.0 325.2 219.1 325.4 215.6 325.5 225.6 325.7 226.1 325.9 218.2 326.1 223.9 326.2 237.9 326.4 234.1 326.6 237.9 326.7 238.2 326.9 237.7 327.1 248.3 327.2 246.5 327.4 240.6 327.6 248.8 327.8 244.4 327.9 246.6 328.1 240.9 328.3 247.0 328.4 239.0 328.6 232.7 328.8 239.2 328.9 238.1 329.1 233.4 329.3 232.9 329.5 223.2 329.6 230.6 329.8 228.4 330.0 223.3 330.1 226.4 330.3 218.8 330.5 212.0 330.6 209.0 330.8 209.2 331.0 205.7 331.2 207.0 331.3 196.3 331.5 201.5 331.7 204.4 331.8 207.5 332.0 217.6 332.2 221.0 332.3 221.8 332.5 227.7 332.7 235.7 332.9 228.4 333.0 230.7 333.2 233.7 333.4 233.5 333.5 233.0 333.7 231.5 333.9 238.9 334.0 239.4 334.2 239.7 334.4 235.2 334.6 240.7 334.7 243.5 334.9 241.5 335.1 242.3 335.2 238.0 335.4 245.4 335.6 245.2 335.7 245.7 335.9 252.3 336.1 256.7 336.3 257.0 336.4 259.1 336.6 256.9 336.8 251.1 336.9 259.8 337.1 266.4 337.3 272.4 337.4 264.9 337.6 271.3 337.8 273.5 338.0 271.5 338.1 269.4 338.3 277.8 338.5 278.8 338.6 277.7 338.8 278.0 339.0 280.0 339.1 277.4 339.3 290.9 339.5 283.8 339.7 282.9 339.8 288.4 340.0 290.6 340.2 291.5 340.3 292.2 340.5 292.6 340.7 294.8 340.8 292.1 341.0 303.0 341.2 306.9 341.4 312.5 341.5 320.8 341.7 324.4 341.9 334.2 342.0 347.3 342.2 359.7 342.4 364.8 342.5 367.8 342.7 376.7 342.9 376.9 343.1 386.0 343.2 386.9 343.4 396.3 343.6 399.0 343.7 400.0 343.9 399.9 344.1 408.3 344.2 409.1 344.4 416.6 344.6 420.8 344.8 422.7 344.9 426.3 345.1 432.8 345.3 431.2 345.4 435.2 345.6 441.0 345.8 443.8 346.0 447.4 346.1 447.6 346.3 444.1 346.5 447.6 346.6 440.9 346.8 446.1 347.0 445.1 347.1 447.1 347.3 446.1 347.5 447.8 347.7 445.9 347.8 450.0 348.0 451.8 348.2 456.3 348.3 455.9 348.5 458.1 348.7 464.6 348.8 466.9 349.0 470.7 349.2 473.6 349.4 474.8 349.5 476.0 349.7 478.1 349.9 479.0 350.0 482.9 350.2 484.7 350.4 483.4 350.5 487.2 350.7 485.7 350.9 484.6 351.1 483.9 351.2 484.2 351.4 478.2 351.6 473.4 351.7 475.7 351.9 470.4 352.1 466.1 352.2 464.4 352.4 457.7 352.6 457.7 352.8 460.9 352.9 462.6 353.1 467.1 353.3 463.6 353.4 468.3 353.6 468.1 353.8 471.3 353.9 469.9 354.1 472.4 354.3 474.0 354.5 469.7 354.6 469.7 354.8 469.6 355.0 465.2 355.1 460.2 355.3 460.8 355.5 457.1 355.6 456.3 355.8 454.2 356.0 457.8 356.2 460.2 356.3 459.0 356.5 460.6 356.7 459.3 356.8 464.6 357.0 468.3 357.2 471.4 357.3 471.3 357.5 470.9 357.7 472.1 357.9 467.2 358.0 464.0 358.2 461.8 358.4 456.2 358.5 457.6 358.7 453.9 358.9 452.5 359.0 451.7 359.2 452.2 359.4 450.0 359.6 447.0 359.7 443.8 359.9 444.2 360.1 443.9 360.2 443.0 360.4 436.3 360.6 439.1 360.7 434.8 360.9 434.7 361.1 430.8 361.3 431.1 361.4 429.3 361.6 428.7 361.8 425.1 361.9 427.6 362.1 419.8 362.3 423.6 362.4 416.8 362.6 414.4 362.8 415.3 363.0 417.5 363.1 409.8 363.3 399.0 363.5 395.0 363.6 393.9 363.8 401.8 364.0 401.4 364.1 408.2 364.3 413.2 364.5 408.8 364.7 415.0 364.8 413.3 365.0 417.8 365.2 419.2 365.3 415.5 365.5 411.9 365.7 416.7 365.8 410.2 366.0 413.3 366.2 408.9 366.4 406.9 366.5 406.4 366.7 403.8 366.9 406.0 367.0 397.1 367.2 401.7 367.4 400.7 367.5 399.6 367.7 395.5 367.9 401.7 368.1 404.7 368.2 406.1 368.4 407.1 368.6 406.2 368.7 404.8 368.9 403.3 369.1 400.4 369.2 390.2 369.4 391.2 369.6 388.5 369.8 381.3 369.9 377.0 370.1 373.1 370.3 373.3 370.4 371.6 370.6 364.2 370.8 369.0 370.9 374.7 371.1 379.4 371.3 378.1 371.5 377.0 371.6 384.8 371.8 387.7 372.0 391.1 372.1 396.3 372.3 396.4 372.5 396.4 372.6 393.0 372.8 395.4 373.0 389.4 373.2 385.7 373.3 387.7 373.5 382.9 373.7 388.3 373.8 385.9 374.0 380.8 374.2 373.8 374.3 366.8 374.5 372.7 374.7 372.2 374.9 369.0 375.0 362.2 375.2 365.0 375.4 354.9 375.5 351.9 375.7 348.4 375.9 346.7 376.0 340.3 376.2 331.0 376.4 329.1 376.6 324.9 376.7 323.8 376.9 319.1 377.1 315.5 377.2 320.4 377.4 319.7 377.6 315.9 377.7 316.1 377.9 317.3 378.1 317.4 378.3 315.9 378.4 315.1 378.6 314.2 378.8 315.9 378.9 317.4 379.1 317.5 379.3 319.3 379.4 319.4 379.6 314.7 379.8 317.8 380.0 316.2 380.1 323.1 380.3 318.8 380.5 324.6 380.6 318.7 380.8 321.6 381.0 320.8 381.1 330.2 381.3 324.3 381.5 323.2 381.7 326.2 381.8 325.5 382.0 330.7 382.2 327.4 382.3 331.2 382.5 336.8 382.7 334.9 382.8 340.1 383.0 340.7 383.2 335.4 383.4 336.2 383.5 332.3 383.7 333.4 383.9 330.0 384.0 325.6 384.2 330.7 384.4 324.3 384.5 323.8 384.7 323.8 384.9 317.4 385.1 313.7 385.2 316.4 385.4 316.4 385.6 315.0 385.7 315.9 385.9 312.1 386.1 308.7 386.2 306.2 386.4 306.0 386.6 306.0 386.8 307.7 386.9 310.5 387.1 308.1 387.3 306.1 387.4 306.4 387.6 304.3 387.8 312.1 387.9 311.3 388.1 311.5 388.3 312.1 388.5 304.6 388.6 302.9 388.8 300.7 389.0 296.0 389.1 303.5 389.3 298.7 389.5 297.0 389.6 296.5 389.8 296.8 390.0 287.5 390.2 293.0 390.3 291.0 390.5 289.4 390.7 289.5 390.8 284.3 391.0 284.8 391.2 285.6 391.3 296.5 391.5 291.7 391.7 291.2 391.9 298.0 392.0 298.3 392.2 298.0 392.4 296.1 392.5 295.9 392.7 285.5 392.9 287.2 393.0 283.1 393.2 273.7 393.4 276.7 393.6 273.6 393.7 271.3 393.9 270.2 394.1 264.9 394.2 266.5 394.4 259.6 394.6 258.9 394.7 259.7 394.9 264.9 395.1 269.7 395.3 268.8 395.4 274.8 395.6 278.4 395.8 281.6 395.9 282.3 396.1 288.0 396.3 295.2 396.4 293.1 396.6 305.4 396.8 305.7 397.0 309.7 397.1 309.6 397.3 308.9 397.5 317.4 397.6 321.8 397.8 314.9 398.0 317.4 398.1 309.5 398.3 313.1 398.5 302.4 398.7 300.6 398.8 296.2 399.0 292.8 399.2 292.3 399.3 287.0 399.5 280.8 399.7 287.9 399.8 273.0 400.0 271.8 400.2 272.6 400.4 272.1 400.5 269.5 400.7 272.0 400.9 269.1 401.0 271.4 401.2 266.6 401.4 271.0 401.5 268.8 401.7 272.9 401.9 268.3 402.1 269.8 402.2 268.6 402.4 272.7 402.6 272.9 402.7 266.4 402.9 264.0 403.1 266.0 403.2 263.7 403.4 255.6 403.6 259.5 403.8 252.1 403.9 255.4 404.1 249.9 404.3 244.4 404.4 242.9 404.6 246.6 404.8 242.8 404.9 245.1 405.1 245.4 405.3 250.4 405.5 251.3 405.6 245.9 405.8 259.1 406.0 261.4 406.1 264.8 406.3 267.7 406.5 264.8 406.6 266.1 406.8 271.4 407.0 279.0 407.2 282.2 407.3 279.6 407.5 280.3 407.7 284.4 407.8 286.0 408.0 295.3 408.2 294.0 408.3 290.2 408.5 294.1 408.7 296.6 408.9 297.1 409.0 303.2 409.2 304.4 409.4 309.6 409.5 306.2 409.7 307.5 409.9 315.2 410.0 311.6 410.2 314.3 410.4 315.5 410.6 323.5 410.7 324.3 410.9 324.6 411.1 326.6 411.2 322.4 411.4 329.7 411.6 329.2 411.7 322.0 411.9 328.0 412.1 329.8 412.3 327.0 412.4 318.3 412.6 321.1 412.8 316.7 412.9 315.5 413.1 311.5 413.3 309.4 413.4 309.5 413.6 316.3 413.8 320.5 414.0 320.1 414.1 315.0 414.3 314.1 414.5 319.6 414.6 317.0 414.8 314.6 415.0 316.7 415.1 311.0 415.3 307.0 415.5 308.3 415.7 302.3 415.8 302.8 416.0 300.3 416.2 296.8 416.3 291.8 416.5 293.4 416.7 292.3 416.8 287.3 417.0 289.0 417.2 283.8 417.4 282.0 417.5 278.2 417.7 275.4 417.9 267.5 418.0 273.5 418.2 271.3 418.4 267.2 418.5 273.2 418.7 268.9 418.9 267.2 419.1 275.9 419.2 277.4 419.4 279.8 419.6 280.6 419.7 279.4 419.9 281.6 420.1 276.0 420.2 279.9 420.4 281.8 420.6 275.6 420.8 274.1 420.9 264.5 421.1 272.3 421.3 266.5 421.4 260.2 421.6 262.3 421.8 256.4 421.9 261.0 422.1 263.0 422.3 256.9 422.5 259.1 422.6 258.8 422.8 252.4 423.0 256.4 423.1 260.8 423.3 257.2 423.5 261.7 423.6 257.4 423.8 256.1 424.0 253.5 424.2 252.7 424.3 247.7 424.5 241.7 424.7 239.3 424.8 242.2 425.0 234.9 425.2 234.9 425.3 233.4 425.5 226.9 425.7 224.8 425.9 231.5 426.0 218.9 426.2 219.5 426.4 221.7 426.5 220.8 426.7 216.3 426.9 221.7 427.0 222.1 427.2 218.4 427.4 216.9 427.6 223.6 427.7 223.7 427.9 220.9 428.1 212.9 428.2 211.1 428.4 219.7 428.6 217.0 428.7 212.9 428.9 202.6 429.1 210.2 429.3 201.9 429.4 209.3 429.6 212.1 429.8 221.2 429.9 212.3 430.1 225.1 430.3 231.0 430.4 230.9 430.6 228.6 430.8 222.5 431.0 218.5 431.1 215.2 431.3 219.5 431.5 210.3 431.6 203.0 431.8 199.5 432.0 196.9 432.1 193.8 432.3 197.8 432.5 194.3 432.7 196.3 432.8 191.3 433.0 183.3 433.2 187.6 433.3 183.7 433.5 184.2 433.7 182.3 433.8 183.4 434.0 191.2 434.2 181.5 434.4 179.1 434.5 177.9 434.7 176.4 434.9 166.0 435.0 170.4 435.2 166.2 435.4 163.8 435.5 160.1 435.7 157.0 435.9 157.9 436.1 169.6 436.2 166.0 436.4 165.9 436.6 166.7 436.7 165.1 436.9 166.0 437.1 172.1 437.2 171.1 437.4 178.3 437.6 178.3 437.8 178.3 437.9 170.3 438.1 158.6 438.3 157.9 438.4 153.8 438.6 150.0 438.8 152.5 438.9 150.7 439.1 151.1 439.3 148.6 439.5 142.8 439.6 148.1 439.8 144.4 440.0 138.4 440.1 138.4 440.3 143.0 440.5 138.4 440.6 146.2 440.8 150.0 441.0 154.9 441.2 154.1 441.3 155.0 441.5 162.9 441.7 173.9 441.8 168.1 442.0 175.8 442.2 175.1 442.3 173.5 442.5 181.1 442.7 178.1 442.9 186.3 443.0 182.8 443.2 184.0 443.4 187.8 443.5 189.0 443.7 184.6 443.9 179.2 444.0 179.1 444.2 189.6 444.4 182.7 444.6 175.6 444.7 178.5 444.9 185.1 445.1 171.2 445.2 168.4 445.4 166.8 445.6 171.6 445.7 164.3 445.9 160.3 446.1 153.9 446.3 155.2 446.4 153.7 446.6 159.0 446.8 153.7 446.9 153.7 447.1 157.0 447.3 166.5 447.4 163.9 447.6 167.6 447.8 173.2 448.0 169.8 448.1 181.1 448.3 180.5 448.5 183.7 448.6 191.9 448.8 195.3 449.0 189.7 449.1 193.9 449.3 198.4 449.5 206.3 449.7 211.1 449.8 205.9 450.0 211.1 450.2 208.2 450.3 206.6 450.5 211.1 450.7 202.6 450.8 202.1 451.0 205.6 451.2 198.4 451.4 195.3 451.5 197.1 451.7 196.5 451.9 192.0 452.0 192.0 452.2 196.3 452.4 198.3 452.5 196.9 452.7 197.1 452.9 197.8 453.1 192.3 453.2 194.0 453.4 197.3 453.6 198.8 453.7 195.1 453.9 197.5 454.1 189.7 454.2 189.7 454.4 189.9 454.6 185.7 454.8 188.9 454.9 183.8 455.1 181.0 455.3 179.1 455.4 171.5 455.6 173.4 455.8 178.0 455.9 169.2 456.1 156.2 456.3 159.6 456.5 155.8 456.6 155.6 456.8 157.9 457.0 155.5 457.1 161.1 457.3 154.8 457.5 158.3 457.6 154.4 457.8 159.7 458.0 160.1 458.2 157.8 458.3 159.6 458.5 159.4 458.7 154.9 458.8 157.0 459.0 154.1 459.2 154.0 459.3 167.8 459.5 166.7 459.7 182.2 459.9 181.1 460.0 188.6 460.2 199.0 460.4 207.2 460.5 207.3 460.7 198.7 460.9 199.5 461.0 205.3 461.2 200.1 461.4 201.8 461.6 192.8 461.7 183.8 461.9 188.0 462.1 182.9 462.2 182.8 462.4 185.8 462.6 188.0 462.7 185.2 462.9 182.7 463.1 182.7 463.3 182.7 463.4 187.8 463.6 189.0 463.8 191.7 463.9 195.5 464.1 193.7 464.3 200.6 464.4 202.0 464.6 201.1 464.8 208.7 465.0 209.9 465.1 218.7 465.3 219.3 465.5 224.7 465.6 228.0 465.8 241.4 466.0 247.3 466.1 263.6 466.3 267.6 466.5 273.6 466.7 282.8 466.8 296.5 467.0 294.7 467.2 294.5 467.3 292.6 467.5 290.2 467.7 297.7 467.8 295.0 468.0 295.3 468.2 302.4 468.4 300.3 468.5 302.1 468.7 300.1 468.9 297.5 469.0 294.8 469.2 302.4 469.4 295.2 469.5 285.9 469.7 277.4 469.9 274.8 470.1 264.1 470.2 250.6 470.4 244.5 470.6 237.5 470.7 246.9 470.9 250.0 471.1 252.6 471.2 260.8 471.4 265.7 471.6 272.3 471.8 268.6 471.9 274.0 472.1 271.3 472.3 268.4 472.4 268.0 472.6 266.8 472.8 266.0 472.9 256.0 473.1 262.5 473.3 260.9 473.5 258.9 473.6 251.7 473.8 248.0 474.0 247.2 474.1 252.2 474.3 259.3 474.5 258.2 474.6 267.8 474.8 265.8 475.0 272.1 475.2 275.6 475.3 274.5 475.5 280.5 475.7 273.4 475.8 275.2 476.0 273.5 476.2 270.8 476.3 268.3 476.5 271.8 476.7 273.3 476.9 266.1 477.0 269.4 477.2 266.8 477.4 267.1 477.5 260.7 477.7 256.2 477.9 252.1 478.0 239.0 478.2 238.9 478.4 225.5 478.6 234.9 478.7 232.8 478.9 229.0 479.1 227.8 479.2 221.5 479.4 213.7 479.6 217.5 479.7 219.9 479.9 218.7 480.1 215.0 480.3 216.6 480.4 215.4 480.6 214.2 480.8 207.8 480.9 213.7 481.1 209.6 481.3 214.3 481.4 220.7 481.6 212.4 481.8 214.2 482.0 214.1 482.1 216.8 482.3 217.4 482.5 222.1 482.6 231.2 482.8 223.7 483.0 232.0 483.1 229.5 483.3 228.5 483.5 224.2 483.7 224.6 483.8 226.4 484.0 223.2 484.2 222.2 484.3 215.4 484.5 215.5 484.7 213.3 484.8 213.1 485.0 212.4 485.2 215.2 485.4 210.0 485.5 210.3 485.7 218.1 485.9 215.4 486.0 210.0 486.2 210.2 486.4 213.5 486.5 213.4 486.7 214.9 486.9 215.7 487.1 217.4 487.2 212.2 487.4 219.1 487.6 217.5 487.7 214.7 487.9 225.2 488.1 219.0 488.2 220.7 488.4 230.5 488.6 229.3 488.8 233.0 488.9 232.2 489.1 237.4 489.3 235.5 489.4 237.6 489.6 227.7 489.8 231.2 489.9 223.4 490.1 224.7 490.3 222.4 490.5 233.0 490.6 229.9 490.8 225.0 491.0 235.5 491.1 235.7 491.3 240.4 491.5 237.2 491.6 238.4 491.8 235.6 492.0 242.1 492.2 248.1 492.3 250.4 492.5 253.4 492.7 243.2 492.8 250.6 493.0 252.3 493.2 256.4 493.3 258.2 493.5 258.3 493.7 264.5 493.9 262.5 494.0 265.5 494.2 269.9 494.4 271.0 494.5 263.9 494.7 275.9 494.9 276.9 495.0 272.5 495.2 270.5 495.4 274.2 495.6 274.2 495.7 275.5 495.9 270.0 496.1 271.3 496.2 273.8 496.4 263.0 496.6 272.8 496.7 274.0 496.9 271.4 497.1 274.1 497.3 267.8 497.4 268.3 497.6 261.0 497.8 259.6 497.9 261.3 498.1 265.0 498.3 260.4 498.4 254.9 498.6 256.3 498.8 255.1 499.0 254.9 499.1 254.9 499.3 255.8 499.5 264.9 499.6 268.0 499.8 259.0 500.0 268.7 500.1 266.9 500.3 269.5 500.5 268.4 500.7 271.6 500.8 273.4 501.0 271.4 501.2 273.6 501.3 272.7 501.5 267.2 501.7 261.9 501.8 265.2 502.0 262.8 502.2 264.2 502.4 261.0 502.5 265.0 502.7 252.2 502.9 262.3 503.0 261.3 503.2 256.8 503.4 249.5 503.5 247.9 503.7 245.0 503.9 247.4 504.1 241.2 504.2 240.0 504.4 243.6 504.6 237.7 504.7 240.7 504.9 237.7 505.1 235.6 505.2 228.7 505.4 232.7 505.6 238.0 505.8 230.4 505.9 220.7 506.1 225.4 506.3 223.3 506.4 228.2 506.6 221.4 506.8 224.8 506.9 225.0 507.1 222.8 507.3 223.4 507.5 220.4 507.6 226.8 507.8 221.3 508.0 228.2 508.1 225.2 508.3 232.7 508.5 225.9 508.6 225.4 508.8 233.6 509.0 232.8 509.2 230.7 509.3 242.6 509.5 233.6 509.7 239.6 509.8 241.2 510.0 239.7 510.2 242.0 510.3 244.2 510.5 247.0 510.7 243.1 510.9 245.9 511.0 247.9 511.2 246.6 511.4 251.2 511.5 249.8 511.7 252.4 511.9 256.1 512.0 251.1 512.2 256.9 512.4 259.5 512.6 255.5 512.7 260.9 512.9 259.2 513.1 258.2 513.2 259.4 513.4 255.7 513.6 251.9 513.7 255.8 513.9 257.1 514.1 259.3 514.3 254.9 514.4 253.9 514.6 252.8 514.8 256.6 514.9 249.2 515.1 247.5 515.3 245.9 515.4 246.6 515.6 243.0 515.8 239.6 516.0 243.7 516.1 245.2 516.3 240.4 516.5 236.7 516.6 244.3 516.8 239.4 517.0 236.7 517.1 236.7 517.3 236.7 517.5 236.7 517.7 239.6 517.8 241.5 518.0 244.7 518.2 244.7 518.3 247.0 518.5 246.6 518.7 247.8 518.8 245.2 519.0 247.8 519.2 244.6 519.4 239.8 519.5 244.1 519.7 246.8 519.9 246.6 520.0 246.0 520.2 247.3 520.4 245.9 520.5 244.4 520.7 244.9 520.9 241.6 521.1 241.6 521.2 233.1 521.4 234.0 521.6 237.8 521.7 236.5 521.9 239.4 522.1 230.3 522.2 229.5 522.4 231.6 522.6 227.1 522.8 230.9 522.9 231.7 523.1 227.1 523.3 234.9 523.4 238.6 523.6 233.9 523.8 237.2 523.9 238.2 524.1 234.9 524.3 238.4 524.5 232.4 524.6 234.2 524.8 245.7 525.0 242.4 525.1 247.0 525.3 246.0 525.5 248.8 525.6 255.2 525.8 252.4 526.0 247.7 526.2 249.0 526.3 256.5 526.5 259.1 526.7 250.7 526.8 248.7 527.0 259.9 527.2 257.8 527.3 263.7 527.5 255.3 527.7 263.9 527.9 261.2 528.0 261.8 528.2 258.9 528.4 267.0 528.5 261.2 528.7 266.0 528.9 264.2 529.0 265.3 529.2 266.7 529.4 265.7 529.6 271.1 529.7 274.3 529.9 273.7 530.1 271.1 530.2 273.3 530.4 270.6 530.6 273.2 530.7 270.5 530.9 283.9 531.1 279.8 531.3 280.2 531.4 286.8 531.6 290.5 531.8 293.6 531.9 295.9 532.1 299.0 532.3 296.3 532.4 289.5 532.6 294.2 532.8 288.4 533.0 285.7 533.1 283.8 533.3 283.9 533.5 281.5 533.6 275.7 533.8 274.4 534.0 280.6 534.1 273.5 534.3 273.1 534.5 282.5 534.7 274.7 534.8 276.3 535.0 271.7 535.2 277.8 535.3 274.8 535.5 276.7 535.7 274.3 535.8 274.6 536.0 277.8 536.2 280.4 536.4 280.1 536.5 272.8 536.7 276.3 536.9 281.9 537.0 284.5 537.2 285.7 537.4 282.0 537.5 289.5 537.7 292.8 537.9 296.4 538.1 301.4 538.2 296.4 538.4 304.0 538.6 303.2 538.7 304.0 538.9 304.0 539.1 304.0 539.2 304.0 539.4 300.6 539.6 291.8 539.8 298.3 539.9 292.5 540.1 291.7 540.3 291.7 540.4 294.4 540.6 294.0 540.8 293.4 540.9 291.7 541.1 291.4 541.3 295.4 541.5 299.6 541.6 295.6 541.8 299.8 542.0 297.1 542.1 295.1 542.3 299.8 542.5 299.8 542.6 299.8 542.8 298.8 543.0 297.0 543.2 295.5 543.3 285.7 543.5 288.8 543.7 288.5 543.8 289.1 544.0 288.7 544.2 282.9 544.3 277.0 544.5 274.5 544.7 280.8 544.9 278.0 545.0 273.2 545.2 272.1 545.4 276.4 545.5 275.5 545.7 275.0 545.9 272.1 546.0 276.5 546.2 273.8 546.4 275.4 546.6 273.9 546.7 273.7 546.9 277.4 547.1 278.4 547.2 276.1 547.4 282.4 547.6 278.5 547.7 279.2 547.9 273.9 548.1 278.3 548.3 278.5 548.4 282.4 548.6 282.4 548.8 279.6 548.9 282.1 549.1 282.4 549.3 276.6 549.4 278.3 549.6 277.3 549.8 276.0 550.0 272.5 550.1 273.2 550.3 275.6 550.5 273.0 550.6 272.5 550.8 272.5 551.0 272.5 551.1 272.5 551.3 272.3 551.5 274.8 551.7 277.2 551.8 277.4 552.0 277.0 552.2 272.8 552.3 274.8 552.5 273.6 552.7 278.4 552.8 278.5 553.0 274.4 553.2 273.7 553.4 273.6 553.5 274.0 553.7 275.2 553.9 278.3 554.0 274.4 554.2 277.7 554.4 280.9 554.5 286.7 554.7 281.8 554.9 286.9 555.1 290.8 555.2 286.4 555.4 291.1 555.6 291.1 555.7 285.1 555.9 282.4 556.1 285.3 556.2 287.7 556.4 284.7 556.6 281.2 556.8 288.8 556.9 282.2 557.1 277.2 557.3 281.0 557.4 283.0 557.6 276.2 557.8 277.4 557.9 278.3 558.1 281.9 558.3 270.7 558.5 272.1 558.6 267.3 558.8 265.6 559.0 268.7 559.1 268.5 559.3 268.5 559.5 269.0 559.6 268.3 559.8 260.0 560.0 262.0 560.2 266.7 560.3 261.0 560.5 264.0 560.7 266.4 560.8 268.2 561.0 260.7 561.2 266.5 561.3 267.6 561.5 270.5 561.7 275.5 561.9 276.0 562.0 277.9 562.2 278.1 562.4 278.8 562.5 278.1 562.7 283.0 562.9 282.3 563.0 276.7 563.2 278.8 563.4 276.5 563.6 282.3 563.7 282.1 563.9 277.9 564.1 284.7 564.2 282.0 564.4 279.7 564.6 280.8 564.7 283.2 564.9 284.7 565.1 281.4 565.3 278.6 565.4 281.5 565.6 278.7 565.8 284.0 565.9 281.5 566.1 281.7 566.3 278.3 566.4 283.6 566.6 281.0 566.8 279.6 567.0 282.4 567.1 282.3 567.3 287.6 567.5 287.1 567.6 287.5 567.8 286.5 568.0 292.0 568.1 287.3 568.3 293.8 568.5 290.0 568.7 290.6 568.8 297.4 569.0 300.4 569.2 301.6 569.3 303.1 569.5 306.1 569.7 311.2 569.8 302.0 570.0 309.1 570.2 309.6 570.4 307.9 570.5 307.3 570.7 305.6 570.9 305.3 571.0 311.0 571.2 305.9 571.4 307.6 571.5 309.0 571.7 307.8 571.9 308.0 572.1 304.8 572.2 306.9 572.4 306.1 572.6 299.4 572.7 301.7 572.9 300.8 573.1 300.2 573.2 300.1 573.4 301.0 573.6 295.1 573.8 297.9 573.9 294.0 574.1 294.8 574.3 301.9 574.4 291.9 574.6 295.5 574.8 290.7 574.9 295.3 575.1 293.5 575.3 292.1 575.5 295.4 575.6 296.2 575.8 295.9 576.0 290.0 576.1 291.6 576.3 288.6 576.5 291.8 576.6 289.0 576.8 289.6 577.0 293.0 577.1 294.5 577.3 293.5 577.5 293.8 577.7 296.6 577.8 296.5 578.0 302.9 578.2 297.1 578.3 298.6 578.5 295.8 578.7 301.5 578.8 303.1 579.0 296.7 579.2 296.9 579.4 297.5 579.5 299.9 579.7 290.1 579.9 292.7 580.0 291.4 580.2 291.1 580.4 291.2 580.5 289.1 580.7 283.6 580.9 283.3 581.1 283.1 581.2 285.6 581.4 279.0 581.6 282.0 581.7 282.9 581.9 285.4 582.1 281.7 582.2 280.7 582.4 279.0 582.6 279.2 582.8 280.4 582.9 284.2 583.1 283.3 583.3 285.4 583.4 283.0 583.6 286.4 583.8 283.6 583.9 286.3 584.1 280.5 584.3 285.0 584.5 285.7 584.6 280.9 584.8 288.1 585.0 288.4 585.1 290.1 585.3 285.6 585.5 282.9 585.6 291.5 585.8 289.1 586.0 289.4 586.2 289.5 586.3 291.9 586.5 289.7 586.7 294.0 586.8 291.4 587.0 287.2 587.2 297.0 587.3 288.5 587.5 294.6 587.7 293.7 587.9 293.5 588.0 293.0 588.2 297.2 588.4 297.2 588.5 292.0 588.7 297.2 588.9 295.6 589.0 292.6 589.2 297.2 589.4 292.2 589.6 297.0 589.7 296.9 589.9 292.2 590.1 298.3 590.2 296.3 590.4 292.2 590.6 292.2 590.7 293.9 590.9 292.2 591.1 293.0 591.3 298.6 591.4 301.1 591.6 301.8 591.8 294.2 591.9 301.1 592.1 301.4 592.3 298.5 592.4 304.1 592.6 304.5 592.8 303.0 593.0 300.5 593.1 301.6 593.3 302.0 593.5 305.1 593.6 301.6 593.8 301.9 594.0 301.8 594.1 304.7 594.3 304.8 594.5 300.7 594.7 303.1 594.8 300.2 595.0 305.0 595.2 304.6 595.3 299.7 595.5 299.2 595.7 306.4 595.8 305.4 596.0 304.5 596.2 304.5 596.4 302.4 596.5 310.0 596.7 301.0 596.9 305.1 597.0 304.1 597.2 314.9 597.4 308.1 597.5 307.4 597.7 304.4 597.9 310.0 598.1 318.1 598.2 315.1 598.4 316.3 598.6 316.8 598.7 309.6 598.9 318.3 599.1 322.7 599.2 321.9 599.4 321.0 599.6 314.7 599.8 324.3 599.9 320.2 600.1 322.9 600.3 318.5 600.4 320.3 600.6 324.6 600.8 319.1 600.9 331.2 601.1 323.3 601.3 323.1 601.5 326.5 601.6 327.6 601.8 329.9 602.0 326.7 602.1 333.0 602.3 335.4 602.5 341.2 602.6 340.0 602.8 342.7 603.0 341.8 603.2 337.7 603.3 345.1 603.5 343.2 603.7 349.6 603.8 351.1 604.0 354.1 604.2 355.0 604.3 356.5 604.5 361.4 604.7 361.1 604.9 360.8 605.0 361.3 605.2 360.5 605.4 358.1 605.5 358.3 605.7 352.6 605.9 354.9 606.0 359.4 606.2 356.8 606.4 360.3 606.6 350.8 606.7 353.7 606.9 353.3 607.1 352.0 607.2 350.4 607.4 345.3 607.6 340.4 607.7 348.4 607.9 346.5 608.1 341.7 608.3 341.8 608.4 342.7 608.6 339.4 608.8 340.0 608.9 345.5 609.1 341.8 609.3 343.0 609.4 346.4 609.6 341.8 609.8 343.3 610.0 345.6 610.1 349.3 610.3 347.7 610.5 342.3 610.6 342.9 610.8 339.4 611.0 336.5 611.1 333.3 611.3 335.0 611.5 331.8 611.7 333.5 611.8 330.7 612.0 328.4 612.2 336.7 612.3 330.1 612.5 328.4 612.7 332.3 612.8 329.2 613.0 340.3 613.2 331.2 613.4 338.2 613.5 337.2 613.7 335.3 613.9 335.2 614.0 336.4 614.2 328.1 614.4 332.3 614.5 330.1 614.7 327.5 614.9 325.1 615.1 321.8 615.2 320.3 615.4 321.1 615.6 318.9 615.7 320.9 615.9 316.0 616.1 325.8 616.2 317.8 616.4 314.7 616.6 314.0 616.8 314.0 616.9 318.5 617.1 320.1 617.3 317.5 617.4 319.4 617.6 323.0 617.8 319.6 617.9 318.9 618.1 325.8 618.3 323.1 618.5 320.8 618.6 327.6 618.8 331.8 619.0 326.7 619.1 330.2 619.3 331.4 619.5 333.1 619.6 331.7 619.8 328.2 620.0 335.1 620.2 331.8 620.3 336.5 620.5 340.6 620.7 338.1 620.8 336.4 621.0 341.7 621.2 342.3 621.3 343.6 621.5 337.6 621.7 340.5 621.9 346.8 622.0 346.5 622.2 349.9 622.4 347.8 622.5 352.9 622.7 350.8 622.9 351.1 623.0 351.8 623.2 349.9 623.4 354.9 623.6 356.0 623.7 351.9 623.9 355.0 624.1 359.2 624.2 355.5 624.4 358.4 624.6 359.4 624.7 360.6 624.9 362.7 625.1 363.3 625.3 363.7 625.4 371.2 625.6 369.2 625.8 368.9 625.9 374.2 626.1 372.5 626.3 373.5 626.4 374.6 626.6 372.8 626.8 375.2 627.0 376.7 627.1 378.7 627.3 379.3 627.5 380.9 627.6 378.2 627.8 378.6 628.0 381.3 628.1 380.9 628.3 381.2 628.5 381.7 628.7 383.2 628.8 381.5 629.0 383.6 629.2 381.8 629.3 380.0 629.5 376.6 629.7 376.7 629.8 374.3 630.0 371.7 630.2 370.5 630.4 371.8 630.5 367.1 630.7 366.5 630.9 372.8 631.0 367.2 631.2 372.5 631.4 372.1 631.5 375.2 631.7 376.1 631.9 380.2 632.1 380.2 632.2 376.7 632.4 383.5 632.6 375.5 632.7 380.5 632.9 376.8 633.1 377.2 633.2 377.9 633.4 379.3 633.6 373.0 633.8 372.5 633.9 371.3 634.1 371.4 634.3 371.7 634.4 372.9 634.6 374.2 634.8 375.4 634.9 376.2 635.1 371.1 635.3 369.3 635.5 374.7 635.6 377.5 635.8 381.1 636.0 377.5 636.1 375.1 636.3 382.0 636.5 379.7 636.6 379.2 636.8 382.1 637.0 380.7 637.2 386.5 637.3 386.5 637.5 387.9 637.7 387.0 637.8 392.1 638.0 388.7 638.2 390.3 638.3 403.0 638.5 402.5 638.7 398.2 638.9 397.8 639.0 396.3 639.2 403.6 639.4 403.4 639.5 403.9 639.7 409.9 639.9 404.2 640.0 405.1 640.2 408.6 640.4 404.1 640.6 408.8 640.7 403.2 640.9 402.2 641.1 408.3 641.2 405.5 641.4 404.2 641.6 399.9 641.7 399.7 641.9 403.0 642.1 399.4 642.3 399.4 642.4 396.7 642.6 397.3 642.8 397.7 642.9 400.8 643.1 400.5 643.3 397.7 643.4 398.6 643.6 396.7 643.8 398.7 644.0 400.9 644.1 405.8 644.3 400.1 644.5 410.3 644.6 409.6 644.8 411.7 645.0 412.3 645.1 415.8 645.3 414.7 645.5 417.5 645.7 415.3 645.8 418.3 646.0 411.9 646.2 414.5 646.3 407.7 646.5 409.0 646.7 408.1 646.8 408.7 647.0 403.2 647.2 410.8 647.4 401.3 647.5 400.6 647.7 403.3 647.9 401.8 648.0 401.8 648.2 403.7 648.4 401.6 648.5 405.0 648.7 405.8 648.9 402.3 649.1 405.3 649.2 404.5 649.4 403.3 649.6 404.8 649.7 403.4 649.9 403.0 650.1 401.8 650.2 397.1 650.4 400.0 650.6 400.2 650.8 395.7 650.9 392.3 651.1 389.5 651.3 390.7 651.4 386.5 651.6 381.4 651.8 382.8 651.9 380.8 652.1 383.7 652.3 384.6 652.5 387.2 652.6 387.1 652.8 382.6 653.0 385.3 653.1 385.7 653.3 387.3 653.5 385.6 653.6 386.8 653.8 387.8 654.0 390.7 654.2 389.4 654.3 388.3 654.5 387.7 654.7 398.7 654.8 403.0 655.0 402.0 655.2 403.8 655.3 403.0 655.5 399.2 655.7 394.3 655.9 396.9 656.0 393.0 656.2 390.9 656.4 390.0 656.5 388.7 656.7 388.5 656.9 388.5 657.0 385.1 657.2 389.0 657.4 387.6 657.6 391.6 657.7 391.9 657.9 390.8 658.1 394.3 658.2 393.9 658.4 395.1 658.6 396.8 658.7 397.2 658.9 399.5 659.1 399.6 659.3 403.0 659.4 397.1 659.6 400.9 659.8 402.1 659.9 404.1 660.1 400.9 660.3 401.9 660.4 400.0 660.6 405.6 660.8 406.8 661.0 404.9 661.1 407.0 661.3 407.9 661.5 406.2 661.6 404.3 661.8 403.0 662.0 403.7 662.1 405.7 662.3 405.4 662.5 404.5 662.7 403.6 662.8 405.2 663.0 403.9 663.2 398.8 663.3 400.6 663.5 399.2 663.7 398.4 663.8 400.0 664.0 397.3 664.2 394.4 664.4 395.3 664.5 394.4 664.7 395.4 664.9 391.2 665.0 388.8 665.2 388.7 665.4 388.6 665.5 387.6 665.7 388.2 665.9 392.4 666.1 385.6 666.2 387.4 666.4 388.0 666.6 387.8 666.7 385.0 666.9 390.9 667.1 391.7 667.2 386.9 667.4 387.0 667.6 390.0 667.8 389.9 667.9 389.3 668.1 388.4 668.3 392.7 668.4 388.7 668.6 396.7 668.8 393.9 668.9 390.2 669.1 393.4 669.3 395.3 669.5 395.0 669.6 398.8 669.8 398.1 670.0 399.6 670.1 398.9 670.3 399.5 670.5 396.3 670.6 404.5 670.8 403.8 671.0 398.6 671.2 402.9 671.3 403.8 671.5 401.3 671.7 400.3 671.8 404.5 672.0 404.0 672.2 397.8 672.3 397.2 672.5 399.0 672.7 401.0 672.9 398.5 673.0 401.9 673.2 402.1 673.4 400.6 673.5 394.5 673.7 395.1 673.9 396.7 674.0 393.9 674.2 392.1 674.4 395.8 674.6 398.8 674.7 393.3 674.9 395.5 675.1 393.6 675.2 391.6 675.4 391.6 675.6 391.6 675.7 392.8 675.9 396.5 676.1 395.6 676.3 391.6 676.4 396.6 676.6 393.1 676.8 394.2 676.9 395.7 677.1 395.8 677.3 399.1 677.4 397.3 677.6 398.1 677.8 397.7 678.0 397.7 678.1 396.6 678.3 395.6 678.5 389.6 678.6 387.5 678.8 389.5 679.0 388.6 679.1 380.7 679.3 380.8 679.5 377.6 679.7 369.4 679.8 376.1 680.0 366.6 680.2 356.3 680.3 356.3 680.5 357.7 680.7 351.4 680.8 352.9 681.0 355.2 681.2 350.4 681.4 346.2 681.5 346.4 681.7 343.6 681.9 344.4 682.0 346.8 682.2 349.0 682.4 348.0 682.5 348.7 682.7 344.4 682.9 342.5 683.1 347.6 683.2 354.2 683.4 350.5 683.6 348.1 683.7 348.9 683.9 355.7 684.1 354.1 684.2 360.3 684.4 355.4 684.6 360.8 684.8 359.1 684.9 355.2 685.1 355.3 685.3 355.7 685.4 355.0 685.6 354.3 685.8 350.6 685.9 352.3 686.1 348.0 686.3 345.3 686.5 345.4 686.6 350.2 686.8 350.5 687.0 345.4 687.1 341.3 687.3 343.1 687.5 342.2 687.6 341.6 687.8 341.3 688.0 343.6 688.2 345.2 688.3 339.0 688.5 341.1 688.7 342.3 688.8 338.2 689.0 337.6 689.2 338.6 689.3 338.4 689.5 335.5 689.7 333.9 689.9 333.8 690.0 333.3 690.2 336.1 690.4 331.6 690.5 331.5 690.7 329.8 690.9 331.2 691.0 332.6 691.2 338.1 691.4 336.5 691.6 334.7 691.7 339.4 691.9 342.7 692.1 340.4 692.2 336.6 692.4 343.5 692.6 341.3 692.7 338.0 692.9 342.2 693.1 341.9 693.3 345.7 693.4 345.9 693.6 344.9 693.8 345.9 693.9 349.2 694.1 351.2 694.3 347.6 694.4 344.4 694.6 349.4 694.8 349.4 695.0 346.6 695.1 351.8 695.3 351.3 695.5 348.7 695.6 344.5 695.8 342.5 696.0 347.2 696.1 348.3 696.3 346.0 696.5 348.6 696.7 343.1 696.8 346.0 697.0 350.7 697.2 347.1 697.3 344.8 697.5 350.1 697.7 347.5 697.8 352.7 698.0 346.0 698.2 349.6 698.4 356.0 698.5 352.4 698.7 355.0 698.9 348.1 699.0 349.3 699.2 356.3 699.4 352.8 699.5 356.4 699.7 356.9 699.9 356.2 700.1 353.3 700.2 354.4 700.4 357.2 700.6 353.2 700.7 353.9 700.9 358.3 701.1 354.7 701.2 350.6 701.4 351.9 701.6 350.9 701.8 355.4 701.9 349.6 702.1 352.0 702.3 351.8 702.4 349.3 702.6 348.7 702.8 346.9 702.9 352.1 703.1 353.1 703.3 351.0 703.5 351.4 703.6 349.7 703.8 351.0 704.0 352.3 704.1 347.4 704.3 350.1 704.5 348.9 704.6 353.5 704.8 351.1 705.0 350.2 705.2 349.3 705.3 346.2 705.5 346.0 705.7 348.7 705.8 351.6 706.0 346.8 706.2 342.5 706.3 345.6 706.5 346.8 706.7 339.4 706.9 337.0 707.0 337.7 707.2 338.5 707.4 336.0 707.5 334.2 707.7 332.6 707.9 333.3 708.0 336.4 708.2 328.1 708.4 325.5 708.6 335.1 708.7 325.8 708.9 325.2 709.1 332.1 709.2 322.9 709.4 320.4 709.6 321.9 709.7 316.0 709.9 320.3 710.1 322.3 710.3 311.1 710.4 314.9 710.6 313.9 710.8 308.2 710.9 316.8 711.1 308.1 711.3 314.9 711.4 313.4 711.6 310.7 711.8 306.2 712.0 306.7 712.1 303.5 712.3 306.5 712.5 309.4 712.6 310.9 712.8 305.1 713.0 305.2 713.1 298.5 713.3 298.9 713.5 296.0 713.7 296.0 713.8 300.4 714.0 302.4 714.2 300.9 714.3 305.9 714.5 300.6 714.7 311.4 714.8 308.5 715.0 309.8 715.2 309.5 715.4 307.2 715.5 308.5 715.7 317.2 715.9 310.8 716.0 309.5 716.2 309.0 716.4 310.7 716.5 308.7 716.7 309.3 716.9 307.4 717.1 307.3 717.2 303.7 717.4 303.0 717.6 302.6 717.7 298.3 717.9 302.3 718.1 291.5 718.2 292.3 718.4 292.9 718.6 287.1 718.8 290.7 718.9 287.3 719.1 285.3 719.3 292.3 719.4 295.8 719.6 293.0 719.8 293.7 719.9 294.4 720.1 296.7 720.3 293.3 720.5 294.6 720.6 298.4 720.8 299.5 721.0 295.4 721.1 292.8 721.3 291.8 721.5 295.8 721.6 293.9 721.8 296.3 722.0 295.7 722.2 296.5 722.3 292.7 722.5 295.3 722.7 294.6 722.8 291.3 723.0 295.9 723.2 301.2 723.3 304.7 723.5 311.0 723.7 313.7 723.9 315.7 724.0 309.5 724.2 302.6 724.4 306.4 724.5 310.6 724.7 309.5 724.9 303.9 725.0 297.6 725.2 302.9 725.4 295.9 725.6 293.1 725.7 296.8 725.9 288.7 726.1 285.3 726.2 291.0 726.4 288.5 726.6 284.5 726.7 281.3 726.9 277.5 727.1 276.3 727.3 276.3 727.4 276.5 727.6 282.4 727.8 278.2 727.9 283.7 728.1 284.4 728.3 286.3 728.4 288.3 728.6 287.2 728.8 289.0 729.0 290.8 729.1 295.3 729.3 294.5 729.5 298.1 729.6 297.1 729.8 299.2 730.0 293.1 730.1 294.2 730.3 297.7 730.5 294.2 730.7 300.1 730.8 300.0 731.0 300.6 731.2 293.6 731.3 290.0 731.5 297.0 731.7 288.9 731.8 285.5 732.0 297.8 732.2 291.3 732.4 286.6 732.5 286.2 732.7 291.0 732.9 285.2 733.0 292.4 733.2 290.9 733.4 289.3 733.5 285.2 733.7 295.1 733.9 295.6 734.1 293.5 734.2 297.1 734.4 296.9 734.6 297.8 734.7 301.2 734.9 298.2 735.1 297.2 735.2 298.0 735.4 298.0 735.6 300.7 735.8 301.0 735.9 305.1 736.1 310.2 736.3 307.0 736.4 299.4 736.6 306.9 736.8 306.2 736.9 309.5 737.1 303.5 737.3 299.0 737.5 302.4 737.6 304.1 737.8 304.1 738.0 301.1 738.1 304.4 738.3 296.2 738.5 295.6 738.6 295.2 738.8 294.0 739.0 293.8 739.2 295.9 739.3 300.5 739.5 299.0 739.7 298.3 739.8 298.2 740.0 301.2 740.2 301.8 740.3 303.9 740.5 304.3 740.7 298.9 740.9 300.0 741.0 298.3 741.2 299.0 741.4 303.9 741.5 302.1 741.7 299.3 741.9 298.9 742.0 296.8 742.2 297.7 742.4 293.1 742.6 302.4 742.7 300.2 742.9 292.2 743.1 295.8 743.2 291.0 743.4 299.8 743.6 291.6 743.7 290.2 743.9 291.7 744.1 289.4 744.3 282.1 744.4 284.7 744.6 278.7 744.8 286.4 744.9 282.8 745.1 283.6 745.3 281.2 745.4 278.9 745.6 282.6 745.8 289.2 746.0 292.3 746.1 289.2 746.3 295.6 746.5 294.0 746.6 304.1 746.8 307.1 747.0 305.0 747.1 307.4 747.3 305.9 747.5 311.2 747.7 314.2 747.8 311.4 748.0 310.0 748.2 314.9 748.3 314.5 748.5 319.9 748.7 318.5 748.8 321.0 749.0 327.3 749.2 327.5 749.4 322.6 749.5 327.2 749.7 325.1 749.9 327.9 750.0 327.2 750.2 325.4 750.4 337.2 750.5 332.0 750.7 333.0 750.9 335.0 751.1 333.5 751.2 337.8 751.4 333.2 751.6 337.4 751.7 335.5 751.9 334.7 752.1 331.0 752.2 332.9 752.4 331.7 752.6 331.1 752.8 335.8 752.9 337.6 753.1 340.0 753.3 344.8 753.4 345.2 753.6 344.2 753.8 347.8 753.9 348.3 754.1 351.6 754.3 352.3 754.5 346.2 754.6 345.0 754.8 343.8 755.0 347.5 755.1 342.2 755.3 340.3 755.5 336.6 755.6 342.0 755.8 339.4 756.0 340.4 756.2 339.7 756.3 337.6 756.5 336.4 756.7 336.2 756.8 337.7 757.0 330.2 757.2 336.2 757.3 332.2 757.5 335.4 757.7 336.6 757.9 331.9 758.0 331.9 758.2 329.6 758.4 332.5 758.5 330.7 758.7 332.0 758.9 333.2 759.0 335.3 759.2 337.8 759.4 335.9 759.6 337.5 759.7 333.4 759.9 336.7 760.1 341.0 760.2 341.0 760.4 341.0 760.6 339.0 760.7 335.4 760.9 335.4 761.1 341.0 761.3 335.9 761.4 337.9 761.6 337.8 761.8 331.0 761.9 335.3 762.1 333.3 762.3 336.9 762.4 331.9 762.6 332.2 762.8 334.1 763.0 333.4 763.1 336.1 763.3 334.3 763.5 334.1 763.6 336.7 763.8 333.6 764.0 335.3 764.1 338.8 764.3 333.9 764.5 336.0 764.7 334.0 764.8 338.7 765.0 333.3 765.2 333.7 765.3 335.9 765.5 337.2 765.7 335.2 765.8 333.9 766.0 339.2 766.2 336.6 766.4 337.2 766.5 333.7 766.7 336.5 766.9 334.0 767.0 337.4 767.2 335.1 767.4 336.2 767.5 338.1 767.7 337.1 767.9 339.4 768.1 343.8 768.2 342.2 768.4 343.0 768.6 342.1 768.7 350.1 768.9 347.9 769.1 345.9 769.2 350.8 769.4 350.8 769.6 350.5 769.8 350.7 769.9 346.3 770.1 351.4 770.3 351.9 770.4 347.7 770.6 345.7 770.8 349.7 770.9 343.9 771.1 342.1 771.3 341.4 771.5 341.5 771.6 339.8 771.8 334.6 772.0 341.7 772.1 340.0 772.3 339.6 772.5 334.7 772.6 339.1 772.8 333.4 773.0 336.6 773.2 328.4 773.3 334.6 773.5 329.6 773.7 328.0 773.8 327.0 774.0 315.4 774.2 320.9 774.3 319.1 774.5 322.8 774.7 323.5 774.9 319.0 775.0 314.5 775.2 318.8 775.4 319.9 775.5 315.3 775.7 318.5 775.9 315.9 776.0 318.3 776.2 318.6 776.4 320.5 776.6 323.0 776.7 322.1 776.9 319.9 777.1 321.8 777.2 321.1 777.4 322.6 777.6 323.0 777.7 320.0 777.9 317.0 778.1 319.8 778.3 316.1 778.4 323.4 778.6 318.0 778.8 319.3 778.9 322.2 779.1 321.4 779.3 318.1 779.4 320.9 779.6 315.7 779.8 315.1 780.0 314.5 780.1 317.3 780.3 318.8 780.5 312.3 780.6 313.5 780.8 316.8 781.0 317.4 781.1 316.9 781.3 314.7 781.5 318.3 781.7 322.6 781.8 323.3 782.0 322.7 782.2 320.4 782.3 319.2 782.5 320.3 782.7 319.8 782.8 326.2 783.0 325.2 783.2 329.2 783.4 330.5 783.5 327.1 783.7 329.4 783.9 327.6 784.0 330.3 784.2 329.4 784.4 326.7 784.5 329.2 784.7 331.7 784.9 333.7 785.1 335.4 785.2 337.2 785.4 342.8 785.6 337.8 785.7 337.8 785.9 341.2 786.1 339.5 786.2 337.8 786.4 344.2 786.6 343.4 786.8 344.7 786.9 341.7 787.1 342.3 787.3 345.3 787.4 341.0 787.6 345.3 787.8 340.5 787.9 343.2 788.1 343.5 788.3 339.9 788.5 336.1 788.6 338.7 788.8 339.1 789.0 339.4 789.1 335.9 789.3 336.5 789.5 335.9 789.6 341.3 789.8 336.0 790.0 335.9 790.2 340.1 790.3 335.9 790.5 335.9 790.7 335.9 790.8 340.2 791.0 341.0 791.2 343.6 791.3 338.9 791.5 336.8 791.7 341.6 791.9 341.6 792.0 343.2 792.2 347.6 792.4 343.6 792.5 344.6 792.7 343.4 792.9 343.4 793.0 346.3 793.2 343.9 793.4 351.2 793.6 350.8 793.7 352.0 793.9 355.3 794.1 355.2 794.2 352.7 794.4 355.9 794.6 350.7 794.7 353.0 794.9 355.5 795.1 351.9 795.3 356.7 795.4 357.2 795.6 357.9 795.8 357.9 795.9 356.8 796.1 357.3 796.3 351.8 796.4 350.4 796.6 348.8 796.8 356.2 797.0 348.3 797.1 352.2 797.3 351.9 797.5 347.9 797.6 348.4 797.8 350.9 798.0 345.7 798.1 348.8 798.3 346.8 798.5 347.9 798.7 344.0 798.8 348.5 799.0 349.3 799.2 345.1 799.3 348.9 799.5 347.7 799.7 347.5 799.8 351.2 800.0 354.1 800.2 350.8 800.4 349.1 800.5 352.7 800.7 354.0 800.9 352.0 801.0 352.5 801.2 347.5 801.4 347.0 801.5 350.4 801.7 345.3 801.9 348.1 802.1 347.2 802.2 346.5 802.4 344.2 802.6 345.8 802.7 342.9 802.9 343.4 803.1 342.2 803.2 346.3 803.4 342.3 803.6 344.7 803.8 344.5 803.9 341.9 804.1 343.5 804.3 342.1 804.4 337.5 804.6 341.7 804.8 340.8 804.9 339.8 805.1 340.3 805.3 343.8 805.5 337.7 805.6 339.6 805.8 341.5 806.0 345.5 806.1 344.1 806.3 344.9 806.5 339.0 806.6 338.7 806.8 344.8 807.0 337.8 807.2 341.1 807.3 344.2 807.5 345.5 807.7 340.8 807.8 341.6 808.0 336.6 808.2 336.1 808.3 338.3 808.5 335.0 808.7 335.6 808.9 338.3 809.0 332.3 809.2 329.4 809.4 327.0 809.5 329.4 809.7 332.0 809.9 329.4 810.0 330.8 810.2 331.8 810.4 326.4 810.6 329.9 810.7 323.3 810.9 325.6 811.1 325.8 811.2 324.1 811.4 323.3 811.6 323.8 811.7 325.5 811.9 323.3 812.1 328.2 812.3 334.0 812.4 323.3 812.6 328.3 812.8 326.6 812.9 332.0 813.1 336.9 813.3 335.8 813.4 335.5 813.6 340.1 813.8 337.8 814.0 341.5 814.1 347.1 814.3 351.8 814.5 347.8 814.6 347.9 814.8 350.3 815.0 348.2 815.1 356.0 815.3 356.3 815.5 355.2 815.7 355.0 815.8 353.4 816.0 355.7 816.2 352.7 816.3 351.4 816.5 350.8 816.7 350.8 816.8 350.8 817.0 355.0 817.2 350.8 817.4 352.8 817.5 353.7 817.7 355.0 817.9 354.6 818.0 359.2 818.2 357.0 818.4 362.3 818.5 366.2 818.7 368.7 818.9 370.4 819.1 369.6 819.2 376.9 819.4 377.3 819.6 384.0 819.7 384.5 819.9 392.1 820.1 397.2 820.2 397.2 820.4 395.1 820.6 388.3 820.8 389.4 820.9 392.8 821.1 387.0 821.3 388.3 821.4 383.5 821.6 379.3 821.8 382.3 821.9 383.7 822.1 378.3 822.3 380.1 822.5 379.0 822.6 377.2 822.8 381.9 823.0 378.9 823.1 375.8 823.3 377.9 823.5 377.7 823.6 374.3 823.8 377.7 824.0 378.1 824.2 378.7 824.3 371.4 824.5 373.2 824.7 371.5 824.8 373.6 825.0 370.7 825.2 375.3 825.3 370.4 825.5 367.8 825.7 370.9 825.9 368.1 826.0 369.6 826.2 364.7 826.4 368.0 826.5 369.0 826.7 370.3 826.9 362.0 827.0 368.9 827.2 364.9 827.4 361.9 827.6 356.1 827.7 363.7 827.9 357.9 828.1 357.3 828.2 356.1 828.4 356.5 828.6 355.9 828.7 352.6 828.9 350.1 829.1 352.3 829.3 343.1 829.4 349.4 829.6 339.3 829.8 347.6 829.9 343.3 830.1 343.5 830.3 338.6 830.4 337.7 830.6 336.4 830.8 337.6 831.0 339.6 831.1 331.8 831.3 328.8 831.5 333.7 831.6 332.5 831.8 327.9 832.0 326.3 832.1 331.5 832.3 324.3 832.5 323.5 832.7 321.4 832.8 326.4 833.0 326.5 833.2 318.2 833.3 318.4 833.5 318.3 833.7 322.3 833.8 319.4 834.0 318.2 834.2 316.0 834.4 318.1 834.5 318.6 834.7 319.9 834.9 314.3 835.0 310.6 835.2 310.1 835.4 309.1 835.5 309.7 835.7 313.0 835.9 314.3 836.1 315.6 836.2 313.5 836.4 309.0 836.6 312.7 836.7 311.0 836.9 310.0 837.1 312.4 837.2 315.0 837.4 309.8 837.6 315.0 837.8 315.0 837.9 315.0 838.1 311.4 838.3 307.9 838.4 310.6 838.6 312.8 838.8 313.6 838.9 308.4 839.1 306.0 839.3 302.3 839.5 308.3 839.6 305.2 839.8 305.4 840.0 305.5 840.1 302.3 840.3 303.9 840.5 303.8 840.6 300.9 840.8 300.7 841.0 298.2 841.2 298.4 841.3 302.2 841.5 304.3 841.7 301.1 841.8 297.7 842.0 303.9 842.2 301.1 842.3 298.9 842.5 302.3 842.7 299.0 842.9 294.8 843.0 300.8 843.2 299.3 843.4 297.3 843.5 296.1 843.7 297.4 843.9 290.1 844.0 287.4 844.2 287.8 844.4 292.5 844.6 292.4 844.7 289.9 844.9 289.9 845.1 290.0 845.2 294.8 845.4 294.7 845.6 294.0 845.7 294.8 845.9 292.7 846.1 294.0 846.3 289.2 846.4 291.2 846.6 294.8 846.8 287.7 846.9 288.6 847.1 287.4 847.3 287.2 847.4 277.3 847.6 277.6 847.8 275.4 848.0 270.7 848.1 275.3 848.3 278.1 848.5 272.8 848.6 263.8 848.8 261.7 849.0 264.3 849.1 261.5 849.3 261.2 849.5 260.7 849.7 251.7 849.8 257.6 850.0 251.8 850.2 250.9 850.3 249.8 850.5 249.4 850.7 243.4 850.8 242.1 851.0 245.7 851.2 241.4 851.4 240.4 851.5 239.8 851.7 243.5 851.9 239.7 852.0 238.9 852.2 245.1 852.4 245.5 852.5 237.5 852.7 236.7 852.9 236.7 853.1 241.3 853.2 236.7 853.4 236.7 853.6 238.3 853.7 237.9 853.9 236.7 854.1 238.6 854.2 236.7 854.4 244.7 854.6 242.8 854.8 252.2 854.9 242.5 855.1 246.9 855.3 245.2 855.4 252.0 855.6 246.2 855.8 249.7 855.9 248.8 856.1 246.3 856.3 238.0 856.5 232.5 856.6 227.4 856.8 220.9 857.0 213.9 857.1 212.9 857.3 200.7 857.5 197.8 857.6 199.7 857.8 198.0 858.0 188.8 858.2 181.6 858.3 183.5 858.5 176.3 858.7 179.5 858.8 176.3 859.0 178.0 859.2 187.1 859.3 184.6 859.5 189.0 859.7 182.3 859.9 176.7 860.0 183.5 860.2 188.3 860.4 185.4 860.5 187.3 860.7 188.5 860.9 186.1 861.0 195.7 861.2 196.3 861.4 198.6 861.6 195.8 861.7 190.6 861.9 201.9 862.1 200.9 862.2 202.4 862.4 200.1 862.6 204.5 862.7 203.9 862.9 203.9 863.1 204.0 863.3 192.7 863.4 190.8 863.6 193.0 863.8 190.6 863.9 179.9 864.1 180.4 864.3 182.4 864.4 175.9 864.6 177.2 864.8 170.0 865.0 163.4 865.1 166.0 865.3 158.7 865.5 160.0 865.6 153.1 865.8 153.1 866.0 149.7 866.1 145.2 866.3 142.5 866.5 145.7 866.7 142.2 866.8 139.1 867.0 124.8 867.2 126.7 867.3 134.2 867.5 123.1 867.7 123.1 867.8 126.6 868.0 123.1 868.2 126.4 868.4 131.7 868.5 136.4 868.7 134.0 868.9 128.5 869.0 137.3 869.2 132.7 869.4 147.3 869.5 129.3 869.7 140.4 869.9 137.0 870.1 140.9 870.2 147.2 870.4 143.4 870.6 144.1 870.7 150.3 870.9 148.5 871.1 151.6 871.2 165.2 871.4 168.1 871.6 175.8 871.8 186.3 871.9 179.4 872.1 186.3 872.3 184.2 872.4 183.3 872.6 182.5 872.8 183.0 872.9 184.6 873.1 185.7 873.3 177.6 873.5 178.3 873.6 183.7 873.8 175.7 874.0 177.1 874.1 181.8 874.3 168.9 874.5 177.4 874.6 169.9 874.8 166.9 875.0 164.0 875.2 157.5 875.3 158.0 875.5 154.6 875.7 150.1 875.8 148.3 876.0 151.4 876.2 147.1 876.3 145.1 876.5 150.4 876.7 147.9 876.9 149.4 877.0 151.1 877.2 166.1 877.4 161.6 877.5 162.4 877.7 176.2 877.9 167.6 878.0 174.6 878.2 177.5 878.4 181.3 878.6 180.7 878.7 187.1 878.9 181.6 879.1 191.4 879.2 197.3 879.4 194.2 879.6 193.4 879.7 187.6 879.9 181.1 880.1 185.0 880.3 178.5 880.4 172.2 880.6 174.1 880.8 161.0 880.9 163.6 881.1 164.6 881.3 166.2 881.4 163.5 881.6 172.5 881.8 175.1 882.0 174.4 882.1 179.6 882.3 180.6 882.5 182.6 882.6 191.7 882.8 191.5 883.0 190.5 883.1 190.2 883.3 186.4 883.5 185.8 883.7 181.3 883.8 182.3 884.0 176.1 884.2 176.3 884.3 174.4 884.5 168.7 884.7 168.2 884.8 155.7 885.0 148.4 885.2 151.3 885.4 142.0 885.5 143.2 885.7 141.7 885.9 136.2 886.0 128.2 886.2 131.1 886.4 138.9 886.5 144.3 886.7 146.3 886.9 153.3 887.1 156.2 887.2 156.1 887.4 158.0 887.6 159.7 887.7 162.0 887.9 165.5 888.1 163.2 888.2 163.0 888.4 168.4 888.6 174.1 888.8 172.7 888.9 165.4 889.1 169.0 889.3 171.4 889.4 174.7 889.6 167.5 889.8 162.3 889.9 165.3 890.1 168.7 890.3 170.2 890.5 165.5 890.6 166.0 890.8 159.5 891.0 166.3 891.1 157.6 891.3 161.4 891.5 165.2 891.6 175.2 891.8 170.8 892.0 170.2 892.2 175.9 892.3 185.3 892.5 185.4 892.7 181.2 892.8 179.7 893.0 180.8 893.2 176.7 893.3 180.8 893.5 168.1 893.7 165.9 893.9 170.6 894.0 155.0 894.2 160.1 894.4 158.5 894.5 160.9 894.7 151.9 894.9 154.9 895.0 154.9 895.2 152.7 895.4 152.8 895.6 145.3 895.7 144.0 895.9 151.8 896.1 151.0 896.2 154.7 896.4 157.8 896.6 155.6 896.7 167.3 896.9 165.3 897.1 159.5 897.3 160.3 897.4 152.6 897.6 158.9 897.8 143.5 897.9 149.8 898.1 149.3 898.3 142.9 898.4 143.8 898.6 140.9 898.8 138.3 899.0 143.2 899.1 140.9 899.3 150.9 899.5 145.4 899.6 145.5 899.8 153.5 900.0 156.3 900.1 154.6 900.3 147.9 900.5 143.3 900.7 134.5 900.8 144.3 901.0 129.8 901.2 118.6 901.3 109.5 901.5 106.8 901.7 109.1 901.8 116.1 902.0 113.4 902.2 116.8 902.4 126.5 902.5 130.6 902.7 132.9 902.9 124.0 903.0 124.6 903.2 133.5 903.4 130.7 903.5 135.0 903.7 131.6 903.9 128.0 904.1 129.2 904.2 131.7 904.4 127.9 904.6 131.2 904.7 131.1 904.9 126.1 905.1 125.4 905.2 119.9 905.4 124.7 905.6 122.3 905.8 120.4 905.9 123.1 906.1 122.3 906.3 131.2 906.4 119.9 906.6 129.1 906.8 127.3 906.9 128.3 907.1 120.7 907.3 126.7 907.5 134.2 907.6 141.7 907.8 133.9 908.0 140.4 908.1 145.2 908.3 151.9 908.5 160.4 908.6 164.5 908.8 169.5 909.0 177.2 909.2 186.7 909.3 190.5 909.5 189.1 909.7 185.1 909.8 187.8 910.0 176.5 910.2 177.7 910.3 181.9 910.5 173.4 910.7 167.8 910.9 157.5 911.0 158.9 911.2 159.9 911.4 156.5 911.5 151.3 911.7 151.1 911.9 152.4 912.0 150.2 912.2 149.1 912.4 153.4 912.6 153.9 912.7 172.9 912.9 180.3 913.1 174.8 913.2 173.3 913.4 174.0 913.6 174.2 913.7 189.0 913.9 194.0 914.1 207.1 914.3 217.7 914.4 215.8 914.6 221.5 914.8 229.1 914.9 233.2 915.1 247.3 915.3 256.5 915.4 255.1 915.6 269.1 915.8 269.3 916.0 274.0 916.1 276.6 916.3 277.6 916.5 282.3 916.6 285.3 916.8 281.3 917.0 283.9 917.1 278.4 917.3 273.9 917.5 269.8 917.7 264.5 917.8 267.3 918.0 257.7 918.2 260.2 918.3 257.5 918.5 259.8 918.7 248.0 918.8 249.5 919.0 240.8 919.2 234.8 919.4 244.6 919.5 238.8 919.7 240.9 919.9 243.3 920.0 243.3 920.2 236.4 920.4 242.6 920.5 245.8 920.7 242.3 920.9 244.3 921.1 247.0 921.2 244.5 921.4 246.0 921.6 240.0 921.7 241.3 921.9 246.5 922.1 241.2 922.2 239.6 922.4 239.6 922.6 239.5 922.8 240.0 922.9 239.7 923.1 244.0 923.3 252.0 923.4 253.2 923.6 251.9 923.8 259.5 923.9 263.4 924.1 266.6 924.3 269.9 924.5 270.7 924.6 275.4 924.8 271.5 925.0 263.3 925.1 261.3 925.3 260.5 925.5 259.7 925.6 259.4 925.8 261.2 926.0 257.5 926.2 257.3 926.3 272.4 926.5 265.9 926.7 268.8 926.8 267.3 927.0 274.7 927.2 272.7 927.3 267.3 927.5 266.8 927.7 266.3 927.9 261.9 928.0 259.8 928.2 255.8 928.4 253.3 928.5 249.9 928.7 255.5 928.9 239.8 929.0 248.0 929.2 243.8 929.4 240.3 929.6 234.7 929.7 228.7 929.9 226.3 930.1 227.7 930.2 218.2 930.4 216.0 930.6 226.3 930.7 221.7 930.9 231.3 931.1 232.9 931.3 225.7 931.4 237.0 931.6 234.9 931.8 244.1 931.9 247.0 932.1 242.8 932.3 245.1 932.4 247.7 932.6 238.7 932.8 237.7 933.0 231.5 933.1 234.5 933.3 224.2 933.5 219.2 933.6 214.8 933.8 214.8 934.0 216.8 934.1 219.4 934.3 219.3 934.5 219.7 934.7 223.6 934.8 230.1 935.0 227.5 935.2 225.2 935.3 230.5 935.5 223.7 935.7 222.8 935.8 213.5 936.0 219.5 936.2 213.8 936.4 210.5 936.5 206.4 936.7 195.1 936.9 182.8 937.0 187.2 937.2 184.2 937.4 180.4 937.5 191.4 937.7 184.7 937.9 182.7 938.1 174.0 938.2 175.6 938.4 178.1 938.6 178.0 938.7 177.1 938.9 176.0 939.1 177.3 939.2 178.6 939.4 174.0 939.6 177.3 939.8 177.8 939.9 182.6 940.1 184.1 940.3 186.4 940.4 183.0 940.6 179.1 940.8 187.2 940.9 190.1 941.1 179.2 941.3 181.4 941.5 192.4 941.6 189.6 941.8 191.0 942.0 199.4 942.1 191.4 942.3 185.1 942.5 194.0 942.6 200.2 942.8 194.2 943.0 207.3 943.2 202.1 943.3 204.3 943.5 204.2 943.7 205.3 943.8 207.3 944.0 205.2 944.2 209.1 944.3 212.5 944.5 214.2 944.7 211.9 944.9 207.9 945.0 212.2 945.2 205.2 945.4 201.6 945.5 202.5 945.7 200.1 945.9 207.3 946.0 203.6 946.2 191.6 946.4 191.6 946.6 193.3 946.7 198.6 946.9 196.0 947.1 201.3 947.2 193.3 947.4 202.5 947.6 192.4 947.7 205.4 947.9 201.1 948.1 203.2 948.3 194.0 948.4 203.7 948.6 204.6 948.8 214.3 948.9 213.6 949.1 209.4 949.3 211.4 949.4 213.2 949.6 212.5 949.8 220.4 950.0 220.0 950.1 216.6 950.3 222.3 950.5 218.2 950.6 214.3 950.8 223.5 951.0 224.9 951.1 229.7 951.3 235.4 951.5 235.3 951.7 240.9 951.8 246.9 952.0 247.8 952.2 249.4 952.3 249.4 952.5 246.3 952.7 237.8 952.8 243.7 953.0 244.6 953.2 235.1 953.4 239.5 953.5 235.2 953.7 228.0 953.9 227.3 954.0 229.1 954.2 225.5 954.4 219.8 954.5 214.2 954.7 217.3 954.9 221.1 955.1 212.2 955.2 217.3 955.4 215.8 955.6 212.2 955.7 212.2 955.9 217.0 956.1 221.5 956.2 227.3 956.4 227.1 956.6 229.6 956.8 232.8 956.9 235.5 957.1 226.8 957.3 227.3 957.4 231.4 957.6 224.7 957.8 228.1 957.9 220.1 958.1 220.6 958.3 211.4 958.5 212.8 958.6 205.8 958.8 207.7 959.0 208.3 959.1 208.2 959.3 204.5 959.5 210.7 959.6 204.5 959.8 204.0 960.0 206.2 960.2 209.1 960.3 208.5 960.5 218.9 960.7 226.1 960.8 225.6 961.0 217.2 961.2 225.1 961.3 224.9 961.5 219.7 961.7 228.0 961.9 227.7 962.0 234.4 962.2 232.7 962.4 238.4 962.5 238.4 962.7 234.9 962.9 235.6 963.0 228.5 963.2 232.7 963.4 228.5 963.6 234.7 963.7 228.0 963.9 223.4 964.1 225.9 964.2 222.0 964.4 222.0 964.6 225.7 964.7 228.3 964.9 226.1 965.1 227.9 965.3 227.0 965.4 228.4 965.6 225.0 965.8 241.1 965.9 232.9 966.1 235.7 966.3 232.5 966.4 234.4 966.6 242.4 966.8 241.1 967.0 244.4 967.1 245.4 967.3 242.5 967.5 247.6 967.6 244.3 967.8 240.8 968.0 244.1 968.1 246.9 968.3 249.0 968.5 244.9 968.7 246.3 968.8 249.0 969.0 241.5 969.2 246.0 969.3 240.4 969.5 239.2 969.7 240.6 969.8 239.0 970.0 245.4 970.2 243.2 970.4 241.5 970.5 232.4 970.7 235.7 970.9 228.6 971.0 231.8 971.2 232.4 971.4 226.4 971.5 232.7 971.7 227.9 971.9 236.7 972.1 225.5 972.2 225.0 972.4 220.9 972.6 218.4 972.7 219.0 972.9 218.1 973.1 221.5 973.2 222.9 973.4 223.2 973.6 221.7 973.8 218.2 973.9 216.8 974.1 217.2 974.3 221.4 974.4 215.3 974.6 215.1 974.8 214.2 974.9 220.3 975.1 221.4 975.3 220.3 975.5 223.4 975.6 227.4 975.8 228.2 976.0 230.4 976.1 230.4 976.3 223.5 976.5 219.3 976.6 214.0 976.8 213.3 977.0 218.8 977.2 214.5 977.3 219.2 977.5 219.5 977.7 216.6 977.8 215.3 978.0 218.4 978.2 217.7 978.3 225.7 978.5 226.0 978.7 224.1 978.9 227.0 979.0 225.6 979.2 220.0 979.4 218.5 979.5 222.4 979.7 224.1 979.9 222.1 980.0 215.0 980.2 215.1 980.4 214.7 980.6 215.8 980.7 214.3 980.9 214.3 981.1 221.0 981.2 214.3 981.4 214.3 981.6 218.2 981.7 214.3 981.9 219.5 982.1 227.7 982.3 231.8 982.4 228.8 982.6 232.3 982.8 234.7 982.9 228.1 983.1 230.1 983.3 227.6 983.4 228.2 983.6 218.4 983.8 220.4 984.0 224.5 984.1 222.8 984.3 212.4 984.5 217.0 984.6 208.4 984.8 199.8 985.0 207.2 985.1 207.9 985.3 205.9 985.5 202.9 985.7 203.4 985.8 189.6 986.0 192.6 986.2 195.0 986.3 193.7 986.5 196.4 986.7 190.7 986.8 185.5 987.0 182.0 987.2 180.5 987.4 189.4 987.5 186.3 987.7 184.6 987.9 182.4 988.0 182.6 988.2 177.4 988.4 178.6 988.5 177.6 988.7 171.7 988.9 171.4 989.1 172.8 989.2 163.3 989.4 165.5 989.6 164.0 989.7 167.6 989.9 161.0 990.1 159.9 990.2 159.9 990.4 161.9 990.6 147.2 990.8 153.0 990.9 143.9 991.1 148.9 991.3 151.2 991.4 142.2 991.6 134.3 991.8 134.6 991.9 121.7 992.1 112.7 992.3 107.6 992.5 93.4 992.6 88.1 992.8 92.8 993.0 89.3 993.1 92.0 993.3 87.2 993.5 93.3 993.6 92.4 993.8 100.0 994.0 108.8 994.2 122.7 994.3 123.3 994.5 124.4 994.7 124.4 994.8 120.0 995.0 131.1 995.2 122.9 995.3 135.6 995.5 134.3 995.7 145.0 995.9 148.5 996.0 139.3 996.2 146.0 996.4 148.5 996.5 139.7 996.7 135.8 996.9 136.9 997.0 141.3 997.2 141.0 997.4 135.1 997.6 134.0 997.7 134.0 997.9 134.0 998.1 136.4 998.2 137.9 998.4 135.9 998.6 135.7 998.7 147.9 998.9 150.6 999.1 151.6 999.3 146.5 999.4 154.9 999.6 160.3 999.8 161.2 999.9 160.8 1000.1 166.9 1000.3 171.9 1000.4 174.3 1000.6 176.5 1000.8 176.4 1001.0 186.5 1001.1 189.0 1001.3 190.2 1001.5 194.6 1001.6 188.7 1001.8 190.9 1002.0 204.2 1002.1 205.4 1002.3 205.2 1002.5 206.8 1002.7 207.7 1002.8 205.0 1003.0 203.4 1003.2 207.0 1003.3 204.9 1003.5 195.4 1003.7 194.0 1003.8 197.0 1004.0 190.5 1004.2 198.6 1004.4 185.6 1004.5 180.8 1004.7 180.8 1004.9 183.1 1005.0 184.4 1005.2 188.7 1005.4 189.1 1005.5 191.8 1005.7 192.4 1005.9 193.1 1006.1 195.8 1006.2 194.1 1006.4 201.2 1006.6 200.3 1006.7 198.1 1006.9 197.0 1007.1 188.8 1007.2 186.4 1007.4 182.8 1007.6 183.4 1007.8 177.0 1007.9 175.3 1008.1 168.5 1008.3 169.8 1008.4 161.8 1008.6 163.6 1008.8 154.9 1008.9 148.6 1009.1 146.0 1009.3 147.6 1009.5 145.8 1009.6 139.1 1009.8 142.7 1010.0 141.3 1010.1 159.5 1010.3 164.5 1010.5 166.1 1010.6 163.4 1010.8 163.9 1011.0 164.8 1011.2 162.9 1011.3 164.2 1011.5 160.1 1011.7 158.7 1011.8 154.8 1012.0 154.8 1012.2 156.4 1012.3 154.8 1012.5 157.5 1012.7 156.9 1012.9 162.2 1013.0 175.9 1013.2 170.8 1013.4 180.3 1013.5 177.8 1013.7 178.0 1013.9 181.8 1014.0 184.2 1014.2 188.8 1014.4 193.6 1014.6 193.3 1014.7 194.7 1014.9 197.2 1015.1 193.8 1015.2 190.7 1015.4 193.0 1015.6 197.2 1015.7 199.5 1015.9 197.0 1016.1 179.8 1016.3 179.3 1016.4 179.1 1016.6 183.3 1016.8 183.4 1016.9 180.5 1017.1 178.8 1017.3 185.9 1017.4 184.9 1017.6 178.8 1017.8 182.4 1018.0 180.4 1018.1 188.3 1018.3 188.2 1018.5 197.5 1018.6 198.4 1018.8 202.0 1019.0 201.1 1019.1 200.0 1019.3 200.6 1019.5 190.5 1019.7 193.5 1019.8 196.7 1020.0 194.0 1020.2 193.3 1020.3 190.0 1020.5 191.9 1020.7 186.2 1020.8 191.2 1021.0 178.0 1021.2 173.5 1021.4 177.4 1021.5 173.3 1021.7 164.4 1021.9 160.6 1022.0 163.4 1022.2 159.2 1022.4 161.5 1022.5 157.1 1022.7 158.2 1022.9 158.8 1023.1 147.5 1023.2 144.0 1023.4 144.6 1023.6 139.4 1023.7 135.1 1023.9 129.6 1024.1 129.3 1024.2 130.4 1024.4 125.1 1024.6 118.9 1024.8 120.6 1024.9 131.4 1025.1 120.1 1025.3 126.6 1025.4 112.1 1025.6 115.6 1025.8 112.5 1025.9 117.1 1026.1 108.9 1026.3 107.7 1026.5 113.9 1026.6 103.9 1026.8 102.1 1027.0 102.6 1027.1 97.1 1027.3 98.4 1027.5 95.0 1027.6 103.0 1027.8 88.4 1028.0 86.5 1028.2 83.8 1028.3 78.6 1028.5 79.1 1028.7 81.3 1028.8 90.6 1029.0 88.7 1029.2 94.7 1029.3 105.7 1029.5 101.3 1029.7 98.3 1029.9 117.1 1030.0 129.9 1030.2 153.7 1030.4 170.4 1030.5 186.9 1030.7 167.7 1030.9 154.5 1031.0 139.5 1031.2 134.0 1031.4 141.4 1031.6 133.4 1031.7 121.8 1031.9 123.5 1032.1 126.4 1032.2 128.7 1032.4 122.4 1032.6 126.3 1032.7 120.1 1032.9 122.1 1033.1 119.9 1033.3 119.9 1033.4 124.6 1033.6 122.6 1033.8 120.7 1033.9 120.4 1034.1 126.5 1034.3 126.5 1034.4 127.4 1034.6 127.4 1034.8 120.2 1035.0 117.7 1035.1 117.7 1035.3 123.2 1035.5 115.6 1035.6 114.4 1035.8 116.3 1036.0 115.1 1036.1 112.2 1036.3 120.2 1036.5 115.8 1036.7 119.8 1036.8 118.8 1037.0 109.4 1037.2 114.2 1037.3 117.5 1037.5 112.8 1037.7 113.6 1037.8 109.6 1038.0 109.2 1038.2 111.3 1038.4 108.6 1038.5 107.5 1038.7 106.5 1038.9 105.4 1039.0 104.3 1039.2 103.2 1039.4 102.1 1039.5 101.5 1039.7 100.9 1039.9 100.4 1040.1 99.8 1040.2 99.2" fill="none" stroke="#000" stroke-width="4" stroke-linejoin="round" stroke-linecap="butt"/>
<ellipse cx="1038" cy="80.6" rx="16" ry="59.3" fill="none" stroke="#6bb255" stroke-width="3"/>
<path d="M1065 44 L1070.5 33 L1114 33 L1114 55 L1070.5 55 Z" fill="#000"/>
<text transform="translate(1073.2,49) scale(0.9,1)" style="fill:#fff;stroke:none">553.80</text>
<rect x="602.5" y="471.5" width="308" height="30.5" rx="4" ry="4" fill="#fff" stroke="#111" stroke-width="1.2"/>
<rect x="610.5" y="483.5" width="6" height="6" fill="#fff" stroke="#888" stroke-width="1"/>
<path d="M612 486.5H615M613.5 485V488" stroke="#444" stroke-width="1" shape-rendering="crispEdges"/>
<rect x="620" y="481" width="12" height="12" fill="#000"/>
<text x="636.05" y="492.6" textLength="45.05" lengthAdjust="spacingAndGlyphs" style="font-size:13.6px">Generic</text>
<text x="686.3" y="492.6" textLength="18.5" lengthAdjust="spacingAndGlyphs" style="font-size:13.6px">1st</text>
<text x="712.2" y="492.6" textLength="20.6" lengthAdjust="spacingAndGlyphs" style="font-size:13.6px">&#39;HG&#39;</text>
<text x="740.9" y="492.6" textLength="37.9" lengthAdjust="spacingAndGlyphs" style="font-size:13.6px">Future</text>
<text x="785.7" y="492.6" textLength="4.9" lengthAdjust="spacingAndGlyphs" style="font-size:13.6px">-</text>
<text x="795.9" y="492.6" textLength="26.4" lengthAdjust="spacingAndGlyphs" style="font-size:13.6px">Last</text>
<text x="827.2" y="492.6" textLength="31" lengthAdjust="spacingAndGlyphs" style="font-size:13.6px">Price</text>
<text x="863.9" y="492.6" textLength="39" lengthAdjust="spacingAndGlyphs" style="font-size:13.6px">553.55</text>
</svg>
</body></html>
